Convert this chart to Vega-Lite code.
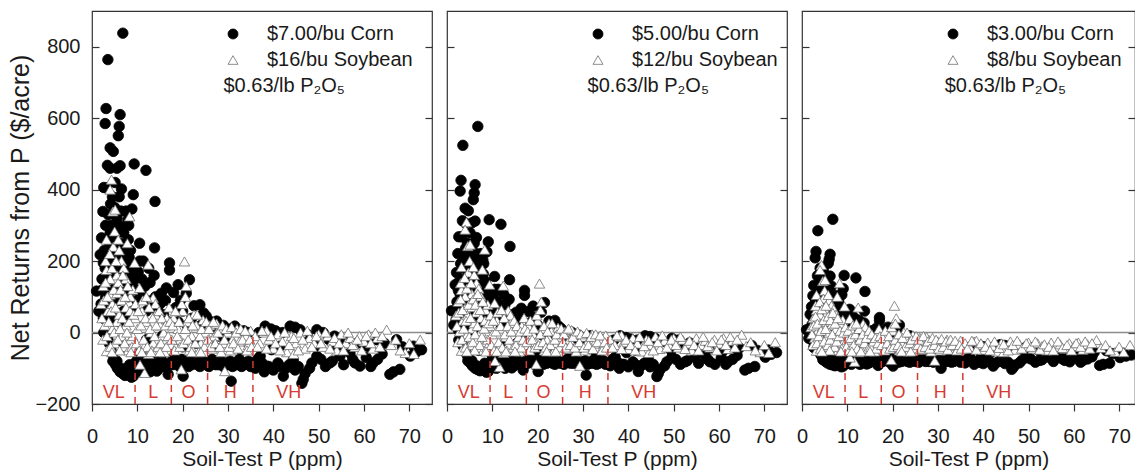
{
"$schema": "https://vega.github.io/schema/vega-lite/v6.json",
"padding": {"left": 8, "top": 10, "right": 0, "bottom": 0},
"spacing": 15,
"bounds": "flush",
"config": {
  "font": "Liberation Sans",
  "view": {"stroke": "#333333", "strokeWidth": 1.2},
  "axis": {"grid": false, "domain": false, "tickColor": "#333333", "tickWidth": 1.2, "labelColor": "#1a1a1a", "titleColor": "#1a1a1a", "titleFontWeight": "normal", "labelFontSize": 20},
  "legend": {"orient": "none", "legendY": 13, "padding": 0, "labelFontSize": 20, "symbolSize": 100, "symbolStrokeWidth": 0.8, "labelOffset": 24, "rowPadding": 6, "labelColor": "#1a1a1a"}
},
"datasets": {
"bounds": [{"p": 9.5}, {"p": 17.5}, {"p": 25.5}, {"p": 35.5}],
"classes": [{"cls": "VL", "p": 4.8}, {"cls": "L", "p": 13.5}, {"cls": "O", "p": 21.3}, {"cls": "H", "p": 30.5}, {"cls": "VH", "p": 43.4}],
"p1": [
{"crop":"Corn","p":1.0,"nr":116},{"crop":"Corn","p":1.5,"nr":60},{"crop":"Corn","p":1.8,"nr":218},{"crop":"Corn","p":2.1,"nr":265},{"crop":"Corn","p":2.4,"nr":339},{"crop":"Corn","p":2.5,"nr":195},{"crop":"Corn","p":2.6,"nr":406},{"crop":"Corn","p":2.9,"nr":585},{"crop":"Corn","p":3.1,"nr":627},{"crop":"Corn","p":3.5,"nr":764},
{"crop":"Corn","p":3.4,"nr":468},{"crop":"Corn","p":4.0,"nr":517},{"crop":"Corn","p":4.7,"nr":507},{"crop":"Corn","p":5.8,"nr":551},{"crop":"Corn","p":6.0,"nr":577},{"crop":"Corn","p":6.2,"nr":610},{"crop":"Corn","p":6.8,"nr":838},{"crop":"Corn","p":6.2,"nr":467},{"crop":"Corn","p":6.5,"nr":402},{"crop":"Corn","p":3.2,"nr":405},
{"crop":"Corn","p":3.0,"nr":300},{"crop":"Corn","p":4.0,"nr":280},{"crop":"Corn","p":5.0,"nr":350},{"crop":"Corn","p":5.5,"nr":320},{"crop":"Corn","p":5.2,"nr":250},{"crop":"Corn","p":6.0,"nr":300},{"crop":"Corn","p":7.0,"nr":280},{"crop":"Corn","p":7.5,"nr":340},{"crop":"Corn","p":8.8,"nr":346},{"crop":"Corn","p":9.1,"nr":386},
{"crop":"Corn","p":9.3,"nr":472},{"crop":"Corn","p":8.0,"nr":260},{"crop":"Corn","p":8.5,"nr":230},{"crop":"Corn","p":7.2,"nr":210},{"crop":"Corn","p":6.5,"nr":180},{"crop":"Corn","p":7.9,"nr":316},{"crop":"Corn","p":4.0,"nr":460},{"crop":"Corn","p":4.5,"nr":380},{"crop":"Corn","p":5.5,"nr":460},{"crop":"Corn","p":6.0,"nr":380},
{"crop":"Corn","p":2.2,"nr":150},{"crop":"Corn","p":3.5,"nr":150},{"crop":"Corn","p":4.5,"nr":120},{"crop":"Corn","p":5.5,"nr":100},{"crop":"Corn","p":6.5,"nr":130},{"crop":"Corn","p":7.5,"nr":160},{"crop":"Corn","p":8.5,"nr":190},{"crop":"Corn","p":9.5,"nr":150},{"crop":"Corn","p":3.0,"nr":100},{"crop":"Corn","p":2.0,"nr":80},
{"crop":"Corn","p":6.0,"nr":30},{"crop":"Corn","p":7.0,"nr":60},{"crop":"Corn","p":8.0,"nr":100},{"crop":"Corn","p":9.0,"nr":60},{"crop":"Corn","p":2.5,"nr":40},{"crop":"Corn","p":3.5,"nr":-20},{"crop":"Corn","p":4.5,"nr":-60},{"crop":"Corn","p":5.5,"nr":-80},{"crop":"Corn","p":6.5,"nr":-100},{"crop":"Corn","p":7.5,"nr":-110},
{"crop":"Corn","p":8.0,"nr":-113},{"crop":"Corn","p":8.7,"nr":-125},{"crop":"Corn","p":9.1,"nr":-122},{"crop":"Corn","p":9.5,"nr":-95},{"crop":"Corn","p":7.0,"nr":-40},{"crop":"Corn","p":11.9,"nr":454},{"crop":"Corn","p":13.9,"nr":367},{"crop":"Corn","p":13.8,"nr":237},{"crop":"Corn","p":10.5,"nr":200},{"crop":"Corn","p":12.5,"nr":180},
{"crop":"Corn","p":11.0,"nr":150},{"crop":"Corn","p":14.0,"nr":100},{"crop":"Corn","p":15.0,"nr":80},{"crop":"Corn","p":16.4,"nr":125},{"crop":"Corn","p":17.1,"nr":195},{"crop":"Corn","p":17.1,"nr":175},{"crop":"Corn","p":12.0,"nr":60},{"crop":"Corn","p":14.3,"nr":-108},{"crop":"Corn","p":11.0,"nr":-90},{"crop":"Corn","p":13.0,"nr":-80},
{"crop":"Corn","p":15.0,"nr":-95},{"crop":"Corn","p":16.8,"nr":-117},{"crop":"Corn","p":12.0,"nr":-20},{"crop":"Corn","p":15.5,"nr":-10},{"crop":"Corn","p":10.5,"nr":250},{"crop":"Corn","p":10.0,"nr":-60},{"crop":"Corn","p":21.5,"nr":148},{"crop":"Corn","p":19.0,"nr":134},{"crop":"Corn","p":18.0,"nr":112},{"crop":"Corn","p":23.8,"nr":78},
{"crop":"Corn","p":20.0,"nr":60},{"crop":"Corn","p":22.0,"nr":40},{"crop":"Corn","p":24.0,"nr":20},{"crop":"Corn","p":20.1,"nr":-122},{"crop":"Corn","p":19.0,"nr":-85},{"crop":"Corn","p":21.0,"nr":-80},{"crop":"Corn","p":22.0,"nr":-90},{"crop":"Corn","p":23.0,"nr":-75},{"crop":"Corn","p":24.0,"nr":-85},{"crop":"Corn","p":18.0,"nr":-70},
{"crop":"Corn","p":20.0,"nr":-40},{"crop":"Corn","p":23.0,"nr":-30},{"crop":"Corn","p":25.2,"nr":46},{"crop":"Corn","p":27.5,"nr":32},{"crop":"Corn","p":29.0,"nr":20},{"crop":"Corn","p":31.5,"nr":18},{"crop":"Corn","p":30.7,"nr":-136},{"crop":"Corn","p":26.0,"nr":-85},{"crop":"Corn","p":27.0,"nr":-80},{"crop":"Corn","p":28.0,"nr":-90},
{"crop":"Corn","p":29.5,"nr":-85},{"crop":"Corn","p":32.0,"nr":-90},{"crop":"Corn","p":33.0,"nr":-95},{"crop":"Corn","p":34.0,"nr":-85},{"crop":"Corn","p":35.6,"nr":-94},{"crop":"Corn","p":27.0,"nr":-40},{"crop":"Corn","p":30.0,"nr":-30},{"crop":"Corn","p":33.0,"nr":-50},{"crop":"Corn","p":28.0,"nr":-10},{"crop":"Corn","p":33.5,"nr":5},
{"crop":"Corn","p":38.2,"nr":18},{"crop":"Corn","p":43.7,"nr":18},{"crop":"Corn","p":45.9,"nr":8},{"crop":"Corn","p":49.6,"nr":8},{"crop":"Corn","p":37.1,"nr":-66},{"crop":"Corn","p":38.5,"nr":-94},{"crop":"Corn","p":42.2,"nr":-122},{"crop":"Corn","p":46.6,"nr":-131},{"crop":"Corn","p":46.3,"nr":-142},{"crop":"Corn","p":44.4,"nr":-76},
{"crop":"Corn","p":52.5,"nr":-85},{"crop":"Corn","p":54.7,"nr":-66},{"crop":"Corn","p":59.1,"nr":-94},{"crop":"Corn","p":56.9,"nr":-57},{"crop":"Corn","p":59.9,"nr":-29},{"crop":"Corn","p":62.8,"nr":-20},{"crop":"Corn","p":67.2,"nr":-20},{"crop":"Corn","p":65.7,"nr":-117},{"crop":"Corn","p":67.9,"nr":-103},{"crop":"Corn","p":70.2,"nr":-66},
{"crop":"Corn","p":70.9,"nr":-38},{"crop":"Corn","p":72.7,"nr":-48},{"crop":"Corn","p":49.6,"nr":-66},{"crop":"Corn","p":49.4,"nr":-38},{"crop":"Corn","p":41.5,"nr":-38},{"crop":"Corn","p":39.6,"nr":-48},{"crop":"Corn","p":54.0,"nr":-38},{"crop":"Corn","p":52.3,"nr":-20},{"crop":"Corn","p":40.5,"nr":5},{"crop":"Corn","p":48.0,"nr":-100},
{"crop":"Corn","p":57.5,"nr":-75},{"crop":"Corn","p":62.0,"nr":-85},{"crop":"Corn","p":64.0,"nr":-60},{"crop":"Corn","p":36.5,"nr":-75},{"crop":"Corn","p":41.0,"nr":-85},
{"crop":"Corn","p":2.3,"nr":120},{"crop":"Corn","p":2.7,"nr":230},{"crop":"Corn","p":3.3,"nr":210},{"crop":"Corn","p":3.6,"nr":330},{"crop":"Corn","p":3.8,"nr":240},{"crop":"Corn","p":4.2,"nr":300},{"crop":"Corn","p":4.4,"nr":200},{"crop":"Corn","p":4.8,"nr":260},{"crop":"Corn","p":4.9,"nr":170},{"crop":"Corn","p":5.3,"nr":220},
{"crop":"Corn","p":5.7,"nr":280},{"crop":"Corn","p":5.9,"nr":190},{"crop":"Corn","p":6.3,"nr":250},{"crop":"Corn","p":6.7,"nr":220},{"crop":"Corn","p":6.9,"nr":150},{"crop":"Corn","p":7.3,"nr":240},{"crop":"Corn","p":7.7,"nr":190},{"crop":"Corn","p":8.2,"nr":210},{"crop":"Corn","p":8.6,"nr":150},{"crop":"Corn","p":9.2,"nr":170},
{"crop":"Corn","p":9.7,"nr":120},{"crop":"Corn","p":2.6,"nr":0},{"crop":"Corn","p":3.2,"nr":50},{"crop":"Corn","p":3.8,"nr":-30},{"crop":"Corn","p":4.2,"nr":-50},{"crop":"Corn","p":4.6,"nr":-80},{"crop":"Corn","p":5.2,"nr":-90},{"crop":"Corn","p":5.6,"nr":-100},{"crop":"Corn","p":6.2,"nr":-110},{"crop":"Corn","p":6.8,"nr":-115},
{"crop":"Corn","p":7.3,"nr":-120},{"crop":"Corn","p":7.8,"nr":-105},{"crop":"Corn","p":8.3,"nr":-90},{"crop":"Corn","p":8.9,"nr":-100},{"crop":"Corn","p":9.4,"nr":-110},{"crop":"Corn","p":9.8,"nr":-80},{"crop":"Corn","p":3.9,"nr":70},{"crop":"Corn","p":4.9,"nr":40},{"crop":"Corn","p":5.9,"nr":90},{"crop":"Corn","p":6.9,"nr":110},
{"crop":"Corn","p":7.9,"nr":50},{"crop":"Corn","p":8.9,"nr":130},{"crop":"Corn","p":9.9,"nr":90},{"crop":"Corn","p":2.9,"nr":180},{"crop":"Corn","p":4.1,"nr":360},{"crop":"Corn","p":5.1,"nr":420},{"crop":"Corn","p":6.4,"nr":340},{"crop":"Corn","p":8.1,"nr":300},{"crop":"Corn","p":10.2,"nr":170},{"crop":"Corn","p":10.8,"nr":110},
{"crop":"Corn","p":11.3,"nr":200},{"crop":"Corn","p":11.7,"nr":130},{"crop":"Corn","p":12.2,"nr":90},{"crop":"Corn","p":12.8,"nr":140},{"crop":"Corn","p":13.3,"nr":70},{"crop":"Corn","p":13.7,"nr":160},{"crop":"Corn","p":14.5,"nr":60},{"crop":"Corn","p":15.3,"nr":110},{"crop":"Corn","p":15.8,"nr":50},{"crop":"Corn","p":16.2,"nr":90},
{"crop":"Corn","p":16.8,"nr":30},{"crop":"Corn","p":10.3,"nr":-100},{"crop":"Corn","p":10.9,"nr":-110},{"crop":"Corn","p":11.5,"nr":-95},{"crop":"Corn","p":12.3,"nr":-100},{"crop":"Corn","p":12.8,"nr":-110},{"crop":"Corn","p":13.5,"nr":-100},{"crop":"Corn","p":14.0,"nr":-90},{"crop":"Corn","p":14.8,"nr":-100},{"crop":"Corn","p":15.6,"nr":-85},
{"crop":"Corn","p":16.2,"nr":-95},{"crop":"Corn","p":17.0,"nr":-85},{"crop":"Corn","p":11.3,"nr":-70},{"crop":"Corn","p":13.2,"nr":-60},{"crop":"Corn","p":15.2,"nr":-70},{"crop":"Corn","p":17.8,"nr":-90},{"crop":"Corn","p":18.5,"nr":-80},{"crop":"Corn","p":19.3,"nr":-95},{"crop":"Corn","p":19.8,"nr":-75},{"crop":"Corn","p":20.5,"nr":-90},
{"crop":"Corn","p":21.3,"nr":-95},{"crop":"Corn","p":21.8,"nr":-85},{"crop":"Corn","p":22.5,"nr":-80},{"crop":"Corn","p":23.3,"nr":-90},{"crop":"Corn","p":23.8,"nr":-95},{"crop":"Corn","p":24.5,"nr":-80},{"crop":"Corn","p":25.0,"nr":-90},{"crop":"Corn","p":18.5,"nr":70},{"crop":"Corn","p":19.5,"nr":90},{"crop":"Corn","p":20.8,"nr":110},
{"crop":"Corn","p":22.5,"nr":75},{"crop":"Corn","p":21.0,"nr":20},{"crop":"Corn","p":24.6,"nr":55},{"crop":"Corn","p":19.0,"nr":30},{"crop":"Corn","p":25.8,"nr":-95},{"crop":"Corn","p":26.5,"nr":-75},{"crop":"Corn","p":27.3,"nr":-90},{"crop":"Corn","p":28.5,"nr":-80},{"crop":"Corn","p":29.0,"nr":-95},{"crop":"Corn","p":30.0,"nr":-90},
{"crop":"Corn","p":30.5,"nr":-80},{"crop":"Corn","p":31.0,"nr":-95},{"crop":"Corn","p":31.8,"nr":-85},{"crop":"Corn","p":32.5,"nr":-75},{"crop":"Corn","p":33.5,"nr":-90},{"crop":"Corn","p":34.5,"nr":-80},{"crop":"Corn","p":35.0,"nr":-95},{"crop":"Corn","p":26.3,"nr":30},{"crop":"Corn","p":28.5,"nr":15},{"crop":"Corn","p":30.5,"nr":10},
{"crop":"Corn","p":34.5,"nr":0},{"crop":"Corn","p":26.8,"nr":10},{"crop":"Corn","p":36.0,"nr":-100},{"crop":"Corn","p":37.5,"nr":-85},{"crop":"Corn","p":38.0,"nr":-110},{"crop":"Corn","p":39.0,"nr":-95},{"crop":"Corn","p":40.0,"nr":-105},{"crop":"Corn","p":41.5,"nr":-95},{"crop":"Corn","p":42.8,"nr":-100},{"crop":"Corn","p":43.5,"nr":-90},
{"crop":"Corn","p":44.8,"nr":-105},{"crop":"Corn","p":45.5,"nr":-95},{"crop":"Corn","p":47.0,"nr":-115},{"crop":"Corn","p":48.5,"nr":-85},{"crop":"Corn","p":50.5,"nr":-75},{"crop":"Corn","p":51.5,"nr":-95},{"crop":"Corn","p":53.0,"nr":-80},{"crop":"Corn","p":55.5,"nr":-90},{"crop":"Corn","p":58.0,"nr":-85},{"crop":"Corn","p":60.5,"nr":-70},
{"crop":"Corn","p":61.5,"nr":-95},{"crop":"Corn","p":63.0,"nr":-75},{"crop":"Corn","p":66.5,"nr":-110},{"crop":"Corn","p":68.5,"nr":-40},{"crop":"Corn","p":71.5,"nr":-55},{"crop":"Corn","p":36.8,"nr":0},{"crop":"Corn","p":39.5,"nr":10},{"crop":"Corn","p":42.0,"nr":0},{"crop":"Corn","p":44.8,"nr":15},{"crop":"Corn","p":47.5,"nr":-5},
{"crop":"Corn","p":51.0,"nr":0},{"crop":"Corn","p":53.5,"nr":-10},{"crop":"Corn","p":56.0,"nr":-20},{"crop":"Corn","p":58.5,"nr":-30},{"crop":"Corn","p":61.0,"nr":-40},{"crop":"Corn","p":64.5,"nr":-30},
{"crop":"Soybean","p":4.3,"nr":428},{"crop":"Soybean","p":4.0,"nr":400},{"crop":"Soybean","p":4.6,"nr":339},{"crop":"Soybean","p":5.1,"nr":344},{"crop":"Soybean","p":8.3,"nr":325},{"crop":"Soybean","p":5.0,"nr":283},{"crop":"Soybean","p":3.2,"nr":260},{"crop":"Soybean","p":4.7,"nr":240},{"crop":"Soybean","p":3.2,"nr":175},{"crop":"Soybean","p":4.0,"nr":106},
{"crop":"Soybean","p":6.0,"nr":230},{"crop":"Soybean","p":6.5,"nr":200},{"crop":"Soybean","p":7.0,"nr":180},{"crop":"Soybean","p":7.5,"nr":150},{"crop":"Soybean","p":5.5,"nr":160},{"crop":"Soybean","p":3.0,"nr":200},{"crop":"Soybean","p":2.5,"nr":130},{"crop":"Soybean","p":2.0,"nr":80},{"crop":"Soybean","p":3.5,"nr":60},{"crop":"Soybean","p":4.5,"nr":80},
{"crop":"Soybean","p":5.5,"nr":110},{"crop":"Soybean","p":6.5,"nr":90},{"crop":"Soybean","p":7.5,"nr":70},{"crop":"Soybean","p":8.5,"nr":100},{"crop":"Soybean","p":9.4,"nr":195},{"crop":"Soybean","p":9.0,"nr":120},{"crop":"Soybean","p":2.8,"nr":20},{"crop":"Soybean","p":3.6,"nr":-48},{"crop":"Soybean","p":3.2,"nr":-52},{"crop":"Soybean","p":4.5,"nr":10},
{"crop":"Soybean","p":5.5,"nr":30},{"crop":"Soybean","p":6.5,"nr":-10},{"crop":"Soybean","p":7.5,"nr":20},{"crop":"Soybean","p":8.5,"nr":-20},{"crop":"Soybean","p":9.5,"nr":40},{"crop":"Soybean","p":5.0,"nr":-30},{"crop":"Soybean","p":6.0,"nr":50},{"crop":"Soybean","p":7.0,"nr":-40},{"crop":"Soybean","p":8.0,"nr":-50},{"crop":"Soybean","p":9.0,"nr":-10},
{"crop":"Soybean","p":4.0,"nr":150},{"crop":"Soybean","p":5.8,"nr":260},{"crop":"Soybean","p":7.8,"nr":250},{"crop":"Soybean","p":10.5,"nr":125},{"crop":"Soybean","p":12.4,"nr":190},{"crop":"Soybean","p":13.5,"nr":97},{"crop":"Soybean","p":11.0,"nr":60},{"crop":"Soybean","p":12.0,"nr":30},{"crop":"Soybean","p":13.0,"nr":0},{"crop":"Soybean","p":14.0,"nr":50},
{"crop":"Soybean","p":15.0,"nr":20},{"crop":"Soybean","p":16.0,"nr":-20},{"crop":"Soybean","p":11.6,"nr":-113},{"crop":"Soybean","p":10.6,"nr":-90},{"crop":"Soybean","p":11.5,"nr":-40},{"crop":"Soybean","p":12.5,"nr":-60},{"crop":"Soybean","p":13.5,"nr":-30},{"crop":"Soybean","p":14.5,"nr":-50},{"crop":"Soybean","p":15.5,"nr":-10},{"crop":"Soybean","p":16.5,"nr":40},
{"crop":"Soybean","p":17.0,"nr":70},{"crop":"Soybean","p":10.0,"nr":10},{"crop":"Soybean","p":14.0,"nr":80},{"crop":"Soybean","p":16.0,"nr":-55},{"crop":"Soybean","p":20.4,"nr":199},{"crop":"Soybean","p":20.8,"nr":130},{"crop":"Soybean","p":19.7,"nr":-103},{"crop":"Soybean","p":18.0,"nr":40},{"crop":"Soybean","p":19.0,"nr":10},{"crop":"Soybean","p":20.0,"nr":60},
{"crop":"Soybean","p":21.0,"nr":30},{"crop":"Soybean","p":22.0,"nr":-10},{"crop":"Soybean","p":23.0,"nr":20},{"crop":"Soybean","p":24.0,"nr":-30},{"crop":"Soybean","p":18.5,"nr":-40},{"crop":"Soybean","p":21.5,"nr":-50},{"crop":"Soybean","p":23.5,"nr":-55},{"crop":"Soybean","p":25.0,"nr":0},{"crop":"Soybean","p":19.5,"nr":-20},{"crop":"Soybean","p":22.5,"nr":50},
{"crop":"Soybean","p":24.5,"nr":35},{"crop":"Soybean","p":29.3,"nr":-108},{"crop":"Soybean","p":26.0,"nr":20},{"crop":"Soybean","p":27.0,"nr":-10},{"crop":"Soybean","p":28.0,"nr":10},{"crop":"Soybean","p":29.0,"nr":-30},{"crop":"Soybean","p":30.0,"nr":0},{"crop":"Soybean","p":31.0,"nr":-20},{"crop":"Soybean","p":32.0,"nr":10},{"crop":"Soybean","p":33.0,"nr":-40},
{"crop":"Soybean","p":34.0,"nr":-10},{"crop":"Soybean","p":35.0,"nr":5},{"crop":"Soybean","p":26.5,"nr":-45},{"crop":"Soybean","p":28.5,"nr":-55},{"crop":"Soybean","p":30.5,"nr":-50},{"crop":"Soybean","p":32.5,"nr":-25},{"crop":"Soybean","p":34.5,"nr":-35},{"crop":"Soybean","p":27.5,"nr":25},{"crop":"Soybean","p":36.0,"nr":-10},{"crop":"Soybean","p":37.0,"nr":-30},
{"crop":"Soybean","p":38.0,"nr":0},{"crop":"Soybean","p":39.0,"nr":-20},{"crop":"Soybean","p":40.0,"nr":-45},{"crop":"Soybean","p":41.0,"nr":-5},{"crop":"Soybean","p":42.0,"nr":-25},{"crop":"Soybean","p":43.0,"nr":-55},{"crop":"Soybean","p":44.0,"nr":-10},{"crop":"Soybean","p":45.0,"nr":-30},{"crop":"Soybean","p":46.0,"nr":0},{"crop":"Soybean","p":47.0,"nr":-45},
{"crop":"Soybean","p":48.0,"nr":-15},{"crop":"Soybean","p":49.0,"nr":-30},{"crop":"Soybean","p":50.0,"nr":-5},{"crop":"Soybean","p":51.0,"nr":-40},{"crop":"Soybean","p":52.0,"nr":-10},{"crop":"Soybean","p":53.0,"nr":-25},{"crop":"Soybean","p":54.0,"nr":-50},{"crop":"Soybean","p":55.0,"nr":-5},{"crop":"Soybean","p":56.0,"nr":-30},{"crop":"Soybean","p":57.0,"nr":-15},
{"crop":"Soybean","p":58.0,"nr":-40},{"crop":"Soybean","p":59.0,"nr":-10},{"crop":"Soybean","p":60.0,"nr":-25},{"crop":"Soybean","p":61.0,"nr":-5},{"crop":"Soybean","p":62.0,"nr":-45},{"crop":"Soybean","p":63.0,"nr":-15},{"crop":"Soybean","p":65.0,"nr":8},{"crop":"Soybean","p":66.0,"nr":-35},{"crop":"Soybean","p":72.4,"nr":-20},{"crop":"Soybean","p":69.1,"nr":-57},
{"crop":"Soybean","p":44.5,"nr":-60},{"crop":"Soybean","p":38.5,"nr":5},
{"crop":"Soybean","p":2.2,"nr":40},{"crop":"Soybean","p":2.4,"nr":-20},{"crop":"Soybean","p":2.6,"nr":90},{"crop":"Soybean","p":3.0,"nr":140},{"crop":"Soybean","p":3.3,"nr":-10},{"crop":"Soybean","p":3.4,"nr":100},{"crop":"Soybean","p":3.7,"nr":30},{"crop":"Soybean","p":3.9,"nr":220},{"crop":"Soybean","p":4.1,"nr":-40},{"crop":"Soybean","p":4.2,"nr":60},
{"crop":"Soybean","p":4.4,"nr":180},{"crop":"Soybean","p":4.8,"nr":120},{"crop":"Soybean","p":4.9,"nr":0},{"crop":"Soybean","p":5.2,"nr":70},{"crop":"Soybean","p":5.3,"nr":200},{"crop":"Soybean","p":5.7,"nr":-20},{"crop":"Soybean","p":5.8,"nr":140},{"crop":"Soybean","p":6.2,"nr":10},{"crop":"Soybean","p":6.3,"nr":120},{"crop":"Soybean","p":6.7,"nr":40},
{"crop":"Soybean","p":6.8,"nr":160},{"crop":"Soybean","p":7.2,"nr":-30},{"crop":"Soybean","p":7.3,"nr":100},{"crop":"Soybean","p":7.7,"nr":0},{"crop":"Soybean","p":7.9,"nr":130},{"crop":"Soybean","p":8.2,"nr":30},{"crop":"Soybean","p":8.4,"nr":60},{"crop":"Soybean","p":8.8,"nr":-40},{"crop":"Soybean","p":9.2,"nr":50},{"crop":"Soybean","p":9.6,"nr":80},
{"crop":"Soybean","p":9.8,"nr":-30},{"crop":"Soybean","p":6.1,"nr":-50},{"crop":"Soybean","p":4.4,"nr":-55},{"crop":"Soybean","p":8.6,"nr":-55},{"crop":"Soybean","p":10.2,"nr":60},{"crop":"Soybean","p":10.4,"nr":-50},{"crop":"Soybean","p":10.8,"nr":20},{"crop":"Soybean","p":11.2,"nr":90},{"crop":"Soybean","p":11.4,"nr":-20},{"crop":"Soybean","p":11.8,"nr":40},
{"crop":"Soybean","p":12.2,"nr":-40},{"crop":"Soybean","p":12.6,"nr":70},{"crop":"Soybean","p":12.8,"nr":10},{"crop":"Soybean","p":13.2,"nr":-50},{"crop":"Soybean","p":13.4,"nr":40},{"crop":"Soybean","p":13.8,"nr":-10},{"crop":"Soybean","p":14.2,"nr":20},{"crop":"Soybean","p":14.6,"nr":-40},{"crop":"Soybean","p":14.8,"nr":60},{"crop":"Soybean","p":15.2,"nr":-30},
{"crop":"Soybean","p":15.4,"nr":40},{"crop":"Soybean","p":15.8,"nr":0},{"crop":"Soybean","p":16.2,"nr":20},{"crop":"Soybean","p":16.4,"nr":-40},{"crop":"Soybean","p":16.8,"nr":-10},{"crop":"Soybean","p":17.2,"nr":30},{"crop":"Soybean","p":11.0,"nr":-55},{"crop":"Soybean","p":13.0,"nr":-55},{"crop":"Soybean","p":15.0,"nr":-55},{"crop":"Soybean","p":12.0,"nr":100},
{"crop":"Soybean","p":17.6,"nr":-20},{"crop":"Soybean","p":17.8,"nr":20},{"crop":"Soybean","p":18.2,"nr":-50},{"crop":"Soybean","p":18.4,"nr":60},{"crop":"Soybean","p":18.8,"nr":-10},{"crop":"Soybean","p":19.2,"nr":30},{"crop":"Soybean","p":19.4,"nr":-40},{"crop":"Soybean","p":19.8,"nr":80},{"crop":"Soybean","p":20.2,"nr":-30},{"crop":"Soybean","p":20.6,"nr":10},
{"crop":"Soybean","p":21.2,"nr":-20},{"crop":"Soybean","p":21.4,"nr":40},{"crop":"Soybean","p":21.8,"nr":-40},{"crop":"Soybean","p":22.2,"nr":20},{"crop":"Soybean","p":22.8,"nr":-30},{"crop":"Soybean","p":23.2,"nr":50},{"crop":"Soybean","p":23.8,"nr":-10},{"crop":"Soybean","p":24.2,"nr":10},{"crop":"Soybean","p":24.8,"nr":-40},{"crop":"Soybean","p":25.2,"nr":30},
{"crop":"Soybean","p":20.6,"nr":100},{"crop":"Soybean","p":22.0,"nr":-55},{"crop":"Soybean","p":24.0,"nr":-55},{"crop":"Soybean","p":25.6,"nr":-20},{"crop":"Soybean","p":25.8,"nr":10},{"crop":"Soybean","p":26.2,"nr":-40},{"crop":"Soybean","p":26.8,"nr":30},{"crop":"Soybean","p":27.2,"nr":-30},{"crop":"Soybean","p":27.8,"nr":0},{"crop":"Soybean","p":28.2,"nr":-40},
{"crop":"Soybean","p":28.8,"nr":20},{"crop":"Soybean","p":29.2,"nr":-20},{"crop":"Soybean","p":29.6,"nr":10},{"crop":"Soybean","p":30.2,"nr":-40},{"crop":"Soybean","p":30.8,"nr":15},{"crop":"Soybean","p":31.2,"nr":-30},{"crop":"Soybean","p":31.8,"nr":0},{"crop":"Soybean","p":32.2,"nr":-45},{"crop":"Soybean","p":32.8,"nr":10},{"crop":"Soybean","p":33.2,"nr":-20},
{"crop":"Soybean","p":33.8,"nr":5},{"crop":"Soybean","p":34.2,"nr":-50},{"crop":"Soybean","p":34.8,"nr":-20},{"crop":"Soybean","p":35.2,"nr":-40},{"crop":"Soybean","p":36.5,"nr":-40},{"crop":"Soybean","p":37.5,"nr":5},{"crop":"Soybean","p":38.5,"nr":-45},{"crop":"Soybean","p":39.5,"nr":-10},{"crop":"Soybean","p":40.5,"nr":-30},{"crop":"Soybean","p":41.5,"nr":-50},
{"crop":"Soybean","p":42.5,"nr":0},{"crop":"Soybean","p":43.5,"nr":-35},{"crop":"Soybean","p":44.5,"nr":-15},{"crop":"Soybean","p":45.5,"nr":-50},{"crop":"Soybean","p":46.5,"nr":-20},{"crop":"Soybean","p":47.5,"nr":5},{"crop":"Soybean","p":48.5,"nr":-40},{"crop":"Soybean","p":49.5,"nr":-10},{"crop":"Soybean","p":50.5,"nr":-30},{"crop":"Soybean","p":51.5,"nr":0},
{"crop":"Soybean","p":52.5,"nr":-45},{"crop":"Soybean","p":53.5,"nr":-15},{"crop":"Soybean","p":54.5,"nr":-30},{"crop":"Soybean","p":55.5,"nr":-50},{"crop":"Soybean","p":56.5,"nr":0},{"crop":"Soybean","p":57.5,"nr":-35},{"crop":"Soybean","p":58.5,"nr":-20},{"crop":"Soybean","p":59.5,"nr":-50},{"crop":"Soybean","p":60.5,"nr":-10},{"crop":"Soybean","p":61.5,"nr":-30},
{"crop":"Soybean","p":62.5,"nr":0},{"crop":"Soybean","p":63.5,"nr":-40},{"crop":"Soybean","p":64.0,"nr":-10},{"crop":"Soybean","p":67.0,"nr":-20},{"crop":"Soybean","p":68.0,"nr":-50},{"crop":"Soybean","p":70.0,"nr":-30},{"crop":"Soybean","p":71.0,"nr":-60}
],
"p2": [
{"crop":"Corn","p":1.0,"nr":61},{"crop":"Corn","p":1.5,"nr":21},{"crop":"Corn","p":1.8,"nr":134},{"crop":"Corn","p":2.1,"nr":168},{"crop":"Corn","p":2.4,"nr":221},{"crop":"Corn","p":2.5,"nr":118},{"crop":"Corn","p":2.6,"nr":268},{"crop":"Corn","p":2.9,"nr":396},{"crop":"Corn","p":3.1,"nr":426},{"crop":"Corn","p":3.5,"nr":524},
{"crop":"Corn","p":3.4,"nr":313},{"crop":"Corn","p":4.0,"nr":348},{"crop":"Corn","p":4.7,"nr":341},{"crop":"Corn","p":5.8,"nr":372},{"crop":"Corn","p":6.0,"nr":391},{"crop":"Corn","p":6.2,"nr":414},{"crop":"Corn","p":6.8,"nr":577},{"crop":"Corn","p":6.2,"nr":312},{"crop":"Corn","p":6.5,"nr":266},{"crop":"Corn","p":3.2,"nr":268},
{"crop":"Corn","p":3.0,"nr":193},{"crop":"Corn","p":4.0,"nr":179},{"crop":"Corn","p":5.0,"nr":229},{"crop":"Corn","p":5.5,"nr":207},{"crop":"Corn","p":5.2,"nr":157},{"crop":"Corn","p":6.0,"nr":193},{"crop":"Corn","p":7.0,"nr":179},{"crop":"Corn","p":7.5,"nr":221},{"crop":"Corn","p":8.8,"nr":226},{"crop":"Corn","p":9.1,"nr":254},
{"crop":"Corn","p":9.3,"nr":316},{"crop":"Corn","p":8.0,"nr":164},{"crop":"Corn","p":8.5,"nr":143},{"crop":"Corn","p":7.2,"nr":129},{"crop":"Corn","p":6.5,"nr":107},{"crop":"Corn","p":7.9,"nr":204},{"crop":"Corn","p":4.0,"nr":307},{"crop":"Corn","p":4.5,"nr":250},{"crop":"Corn","p":5.5,"nr":307},{"crop":"Corn","p":6.0,"nr":250},
{"crop":"Corn","p":2.2,"nr":86},{"crop":"Corn","p":3.5,"nr":86},{"crop":"Corn","p":4.5,"nr":64},{"crop":"Corn","p":5.5,"nr":50},{"crop":"Corn","p":6.5,"nr":71},{"crop":"Corn","p":7.5,"nr":93},{"crop":"Corn","p":8.5,"nr":114},{"crop":"Corn","p":9.5,"nr":86},{"crop":"Corn","p":3.0,"nr":50},{"crop":"Corn","p":2.0,"nr":36},
{"crop":"Corn","p":6.0,"nr":0},{"crop":"Corn","p":7.0,"nr":21},{"crop":"Corn","p":8.0,"nr":50},{"crop":"Corn","p":9.0,"nr":21},{"crop":"Corn","p":2.5,"nr":7},{"crop":"Corn","p":3.5,"nr":-36},{"crop":"Corn","p":4.5,"nr":-64},{"crop":"Corn","p":5.5,"nr":-79},{"crop":"Corn","p":6.5,"nr":-93},{"crop":"Corn","p":7.5,"nr":-100},
{"crop":"Corn","p":8.0,"nr":-102},{"crop":"Corn","p":8.7,"nr":-111},{"crop":"Corn","p":9.1,"nr":-109},{"crop":"Corn","p":9.5,"nr":-89},{"crop":"Corn","p":7.0,"nr":-50},{"crop":"Corn","p":11.9,"nr":303},{"crop":"Corn","p":13.9,"nr":241},{"crop":"Corn","p":13.8,"nr":148},{"crop":"Corn","p":10.5,"nr":121},{"crop":"Corn","p":12.5,"nr":107},
{"crop":"Corn","p":11.0,"nr":86},{"crop":"Corn","p":14.0,"nr":50},{"crop":"Corn","p":15.0,"nr":36},{"crop":"Corn","p":16.4,"nr":68},{"crop":"Corn","p":17.1,"nr":118},{"crop":"Corn","p":17.1,"nr":104},{"crop":"Corn","p":12.0,"nr":21},{"crop":"Corn","p":14.3,"nr":-99},{"crop":"Corn","p":11.0,"nr":-86},{"crop":"Corn","p":13.0,"nr":-79},
{"crop":"Corn","p":15.0,"nr":-89},{"crop":"Corn","p":16.8,"nr":-105},{"crop":"Corn","p":12.0,"nr":-36},{"crop":"Corn","p":15.5,"nr":-29},{"crop":"Corn","p":10.5,"nr":157},{"crop":"Corn","p":10.0,"nr":-64},{"crop":"Corn","p":21.5,"nr":84},{"crop":"Corn","p":19.0,"nr":74},{"crop":"Corn","p":18.0,"nr":59},{"crop":"Corn","p":23.8,"nr":34},
{"crop":"Corn","p":20.0,"nr":21},{"crop":"Corn","p":22.0,"nr":7},{"crop":"Corn","p":24.0,"nr":-7},{"crop":"Corn","p":20.1,"nr":-109},{"crop":"Corn","p":19.0,"nr":-82},{"crop":"Corn","p":21.0,"nr":-79},{"crop":"Corn","p":22.0,"nr":-86},{"crop":"Corn","p":23.0,"nr":-75},{"crop":"Corn","p":24.0,"nr":-82},{"crop":"Corn","p":18.0,"nr":-71},
{"crop":"Corn","p":20.0,"nr":-50},{"crop":"Corn","p":23.0,"nr":-43},{"crop":"Corn","p":25.2,"nr":11},{"crop":"Corn","p":27.5,"nr":1},{"crop":"Corn","p":29.0,"nr":-7},{"crop":"Corn","p":31.5,"nr":-9},{"crop":"Corn","p":30.7,"nr":-119},{"crop":"Corn","p":26.0,"nr":-82},{"crop":"Corn","p":27.0,"nr":-79},{"crop":"Corn","p":28.0,"nr":-86},
{"crop":"Corn","p":29.5,"nr":-82},{"crop":"Corn","p":32.0,"nr":-86},{"crop":"Corn","p":33.0,"nr":-89},{"crop":"Corn","p":34.0,"nr":-82},{"crop":"Corn","p":35.6,"nr":-89},{"crop":"Corn","p":27.0,"nr":-50},{"crop":"Corn","p":30.0,"nr":-43},{"crop":"Corn","p":33.0,"nr":-57},{"crop":"Corn","p":28.0,"nr":-29},{"crop":"Corn","p":33.5,"nr":-18},
{"crop":"Corn","p":38.2,"nr":-9},{"crop":"Corn","p":43.7,"nr":-9},{"crop":"Corn","p":45.9,"nr":-16},{"crop":"Corn","p":49.6,"nr":-16},{"crop":"Corn","p":37.1,"nr":-69},{"crop":"Corn","p":38.5,"nr":-89},{"crop":"Corn","p":42.2,"nr":-109},{"crop":"Corn","p":46.6,"nr":-115},{"crop":"Corn","p":46.3,"nr":-123},{"crop":"Corn","p":44.4,"nr":-76},
{"crop":"Corn","p":52.5,"nr":-82},{"crop":"Corn","p":54.7,"nr":-69},{"crop":"Corn","p":59.1,"nr":-89},{"crop":"Corn","p":56.9,"nr":-62},{"crop":"Corn","p":59.9,"nr":-42},{"crop":"Corn","p":62.8,"nr":-36},{"crop":"Corn","p":67.2,"nr":-36},{"crop":"Corn","p":65.7,"nr":-105},{"crop":"Corn","p":67.9,"nr":-95},{"crop":"Corn","p":70.2,"nr":-69},
{"crop":"Corn","p":70.9,"nr":-49},{"crop":"Corn","p":72.7,"nr":-56},{"crop":"Corn","p":49.6,"nr":-69},{"crop":"Corn","p":49.4,"nr":-49},{"crop":"Corn","p":41.5,"nr":-49},{"crop":"Corn","p":39.6,"nr":-56},{"crop":"Corn","p":54.0,"nr":-49},{"crop":"Corn","p":52.3,"nr":-36},{"crop":"Corn","p":40.5,"nr":-18},{"crop":"Corn","p":48.0,"nr":-93},
{"crop":"Corn","p":57.5,"nr":-75},{"crop":"Corn","p":62.0,"nr":-82},{"crop":"Corn","p":64.0,"nr":-64},{"crop":"Corn","p":36.5,"nr":-75},{"crop":"Corn","p":41.0,"nr":-82},
{"crop":"Corn","p":2.3,"nr":64},{"crop":"Corn","p":2.7,"nr":143},{"crop":"Corn","p":3.3,"nr":129},{"crop":"Corn","p":3.6,"nr":214},{"crop":"Corn","p":3.8,"nr":150},{"crop":"Corn","p":4.2,"nr":193},{"crop":"Corn","p":4.4,"nr":121},{"crop":"Corn","p":4.8,"nr":164},{"crop":"Corn","p":4.9,"nr":100},{"crop":"Corn","p":5.3,"nr":136},
{"crop":"Corn","p":5.7,"nr":179},{"crop":"Corn","p":5.9,"nr":114},{"crop":"Corn","p":6.3,"nr":157},{"crop":"Corn","p":6.7,"nr":136},{"crop":"Corn","p":6.9,"nr":86},{"crop":"Corn","p":7.3,"nr":150},{"crop":"Corn","p":7.7,"nr":114},{"crop":"Corn","p":8.2,"nr":129},{"crop":"Corn","p":8.6,"nr":86},{"crop":"Corn","p":9.2,"nr":100},
{"crop":"Corn","p":9.7,"nr":64},{"crop":"Corn","p":2.6,"nr":-21},{"crop":"Corn","p":3.2,"nr":14},{"crop":"Corn","p":3.8,"nr":-43},{"crop":"Corn","p":4.2,"nr":-57},{"crop":"Corn","p":4.6,"nr":-79},{"crop":"Corn","p":5.2,"nr":-86},{"crop":"Corn","p":5.6,"nr":-93},{"crop":"Corn","p":6.2,"nr":-100},{"crop":"Corn","p":6.8,"nr":-104},
{"crop":"Corn","p":7.3,"nr":-107},{"crop":"Corn","p":7.8,"nr":-96},{"crop":"Corn","p":8.3,"nr":-86},{"crop":"Corn","p":8.9,"nr":-93},{"crop":"Corn","p":9.4,"nr":-100},{"crop":"Corn","p":9.8,"nr":-79},{"crop":"Corn","p":3.9,"nr":29},{"crop":"Corn","p":4.9,"nr":7},{"crop":"Corn","p":5.9,"nr":43},{"crop":"Corn","p":6.9,"nr":57},
{"crop":"Corn","p":7.9,"nr":14},{"crop":"Corn","p":8.9,"nr":71},{"crop":"Corn","p":9.9,"nr":43},{"crop":"Corn","p":2.9,"nr":107},{"crop":"Corn","p":4.1,"nr":236},{"crop":"Corn","p":5.1,"nr":279},{"crop":"Corn","p":6.4,"nr":221},{"crop":"Corn","p":8.1,"nr":193},{"crop":"Corn","p":10.2,"nr":100},{"crop":"Corn","p":10.8,"nr":57},
{"crop":"Corn","p":11.3,"nr":121},{"crop":"Corn","p":11.7,"nr":71},{"crop":"Corn","p":12.2,"nr":43},{"crop":"Corn","p":12.8,"nr":79},{"crop":"Corn","p":13.3,"nr":29},{"crop":"Corn","p":13.7,"nr":93},{"crop":"Corn","p":14.5,"nr":21},{"crop":"Corn","p":15.3,"nr":57},{"crop":"Corn","p":15.8,"nr":14},{"crop":"Corn","p":16.2,"nr":43},
{"crop":"Corn","p":16.8,"nr":0},{"crop":"Corn","p":10.3,"nr":-93},{"crop":"Corn","p":10.9,"nr":-100},{"crop":"Corn","p":11.5,"nr":-89},{"crop":"Corn","p":12.3,"nr":-93},{"crop":"Corn","p":12.8,"nr":-100},{"crop":"Corn","p":13.5,"nr":-93},{"crop":"Corn","p":14.0,"nr":-86},{"crop":"Corn","p":14.8,"nr":-93},{"crop":"Corn","p":15.6,"nr":-82},
{"crop":"Corn","p":16.2,"nr":-89},{"crop":"Corn","p":17.0,"nr":-82},{"crop":"Corn","p":11.3,"nr":-71},{"crop":"Corn","p":13.2,"nr":-64},{"crop":"Corn","p":15.2,"nr":-71},{"crop":"Corn","p":17.8,"nr":-86},{"crop":"Corn","p":18.5,"nr":-79},{"crop":"Corn","p":19.3,"nr":-89},{"crop":"Corn","p":19.8,"nr":-75},{"crop":"Corn","p":20.5,"nr":-86},
{"crop":"Corn","p":21.3,"nr":-89},{"crop":"Corn","p":21.8,"nr":-82},{"crop":"Corn","p":22.5,"nr":-79},{"crop":"Corn","p":23.3,"nr":-86},{"crop":"Corn","p":23.8,"nr":-89},{"crop":"Corn","p":24.5,"nr":-79},{"crop":"Corn","p":25.0,"nr":-86},{"crop":"Corn","p":18.5,"nr":29},{"crop":"Corn","p":19.5,"nr":43},{"crop":"Corn","p":20.8,"nr":57},
{"crop":"Corn","p":22.5,"nr":32},{"crop":"Corn","p":21.0,"nr":-7},{"crop":"Corn","p":24.6,"nr":18},{"crop":"Corn","p":19.0,"nr":0},{"crop":"Corn","p":25.8,"nr":-89},{"crop":"Corn","p":26.5,"nr":-75},{"crop":"Corn","p":27.3,"nr":-86},{"crop":"Corn","p":28.5,"nr":-79},{"crop":"Corn","p":29.0,"nr":-89},{"crop":"Corn","p":30.0,"nr":-86},
{"crop":"Corn","p":30.5,"nr":-79},{"crop":"Corn","p":31.0,"nr":-89},{"crop":"Corn","p":31.8,"nr":-82},{"crop":"Corn","p":32.5,"nr":-75},{"crop":"Corn","p":33.5,"nr":-86},{"crop":"Corn","p":34.5,"nr":-79},{"crop":"Corn","p":35.0,"nr":-89},{"crop":"Corn","p":26.3,"nr":0},{"crop":"Corn","p":28.5,"nr":-11},{"crop":"Corn","p":30.5,"nr":-14},
{"crop":"Corn","p":34.5,"nr":-21},{"crop":"Corn","p":26.8,"nr":-14},{"crop":"Corn","p":36.0,"nr":-93},{"crop":"Corn","p":37.5,"nr":-82},{"crop":"Corn","p":38.0,"nr":-100},{"crop":"Corn","p":39.0,"nr":-89},{"crop":"Corn","p":40.0,"nr":-96},{"crop":"Corn","p":41.5,"nr":-89},{"crop":"Corn","p":42.8,"nr":-93},{"crop":"Corn","p":43.5,"nr":-86},
{"crop":"Corn","p":44.8,"nr":-96},{"crop":"Corn","p":45.5,"nr":-89},{"crop":"Corn","p":47.0,"nr":-104},{"crop":"Corn","p":48.5,"nr":-82},{"crop":"Corn","p":50.5,"nr":-75},{"crop":"Corn","p":51.5,"nr":-89},{"crop":"Corn","p":53.0,"nr":-79},{"crop":"Corn","p":55.5,"nr":-86},{"crop":"Corn","p":58.0,"nr":-82},{"crop":"Corn","p":60.5,"nr":-71},
{"crop":"Corn","p":61.5,"nr":-89},{"crop":"Corn","p":63.0,"nr":-75},{"crop":"Corn","p":66.5,"nr":-100},{"crop":"Corn","p":68.5,"nr":-50},{"crop":"Corn","p":71.5,"nr":-61},{"crop":"Corn","p":36.8,"nr":-21},{"crop":"Corn","p":39.5,"nr":-14},{"crop":"Corn","p":42.0,"nr":-21},{"crop":"Corn","p":44.8,"nr":-11},{"crop":"Corn","p":47.5,"nr":-25},
{"crop":"Corn","p":51.0,"nr":-21},{"crop":"Corn","p":53.5,"nr":-29},{"crop":"Corn","p":56.0,"nr":-36},{"crop":"Corn","p":58.5,"nr":-43},{"crop":"Corn","p":61.0,"nr":-50},{"crop":"Corn","p":64.5,"nr":-43},
{"crop":"Soybean","p":4.3,"nr":309},{"crop":"Soybean","p":4.0,"nr":288},{"crop":"Soybean","p":4.6,"nr":242},{"crop":"Soybean","p":5.1,"nr":246},{"crop":"Soybean","p":8.3,"nr":232},{"crop":"Soybean","p":5.0,"nr":200},{"crop":"Soybean","p":3.2,"nr":183},{"crop":"Soybean","p":4.7,"nr":168},{"crop":"Soybean","p":3.2,"nr":119},{"crop":"Soybean","p":4.0,"nr":68},
{"crop":"Soybean","p":6.0,"nr":161},{"crop":"Soybean","p":6.5,"nr":138},{"crop":"Soybean","p":7.0,"nr":123},{"crop":"Soybean","p":7.5,"nr":101},{"crop":"Soybean","p":5.5,"nr":108},{"crop":"Soybean","p":3.0,"nr":138},{"crop":"Soybean","p":2.5,"nr":86},{"crop":"Soybean","p":2.0,"nr":48},{"crop":"Soybean","p":3.5,"nr":33},{"crop":"Soybean","p":4.5,"nr":48},
{"crop":"Soybean","p":5.5,"nr":71},{"crop":"Soybean","p":6.5,"nr":56},{"crop":"Soybean","p":7.5,"nr":41},{"crop":"Soybean","p":8.5,"nr":63},{"crop":"Soybean","p":9.4,"nr":134},{"crop":"Soybean","p":9.0,"nr":78},{"crop":"Soybean","p":2.8,"nr":3},{"crop":"Soybean","p":3.6,"nr":-48},{"crop":"Soybean","p":3.2,"nr":-51},{"crop":"Soybean","p":4.5,"nr":-5},
{"crop":"Soybean","p":5.5,"nr":11},{"crop":"Soybean","p":6.5,"nr":-20},{"crop":"Soybean","p":7.5,"nr":3},{"crop":"Soybean","p":8.5,"nr":-27},{"crop":"Soybean","p":9.5,"nr":18},{"crop":"Soybean","p":5.0,"nr":-35},{"crop":"Soybean","p":6.0,"nr":26},{"crop":"Soybean","p":7.0,"nr":-42},{"crop":"Soybean","p":8.0,"nr":-50},{"crop":"Soybean","p":9.0,"nr":-20},
{"crop":"Soybean","p":4.0,"nr":101},{"crop":"Soybean","p":5.8,"nr":183},{"crop":"Soybean","p":7.8,"nr":176},{"crop":"Soybean","p":10.5,"nr":82},{"crop":"Soybean","p":12.4,"nr":131},{"crop":"Soybean","p":13.5,"nr":61},{"crop":"Soybean","p":11.0,"nr":33},{"crop":"Soybean","p":12.0,"nr":11},{"crop":"Soybean","p":13.0,"nr":-12},{"crop":"Soybean","p":14.0,"nr":26},
{"crop":"Soybean","p":15.0,"nr":3},{"crop":"Soybean","p":16.0,"nr":-27},{"crop":"Soybean","p":11.6,"nr":-97},{"crop":"Soybean","p":10.6,"nr":-80},{"crop":"Soybean","p":11.5,"nr":-42},{"crop":"Soybean","p":12.5,"nr":-57},{"crop":"Soybean","p":13.5,"nr":-35},{"crop":"Soybean","p":14.5,"nr":-50},{"crop":"Soybean","p":15.5,"nr":-20},{"crop":"Soybean","p":16.5,"nr":18},
{"crop":"Soybean","p":17.0,"nr":41},{"crop":"Soybean","p":10.0,"nr":-5},{"crop":"Soybean","p":14.0,"nr":48},{"crop":"Soybean","p":16.0,"nr":-53},{"crop":"Soybean","p":20.4,"nr":137},{"crop":"Soybean","p":20.8,"nr":86},{"crop":"Soybean","p":19.7,"nr":-89},{"crop":"Soybean","p":18.0,"nr":18},{"crop":"Soybean","p":19.0,"nr":-5},{"crop":"Soybean","p":20.0,"nr":33},
{"crop":"Soybean","p":21.0,"nr":11},{"crop":"Soybean","p":22.0,"nr":-20},{"crop":"Soybean","p":23.0,"nr":3},{"crop":"Soybean","p":24.0,"nr":-35},{"crop":"Soybean","p":18.5,"nr":-42},{"crop":"Soybean","p":21.5,"nr":-50},{"crop":"Soybean","p":23.5,"nr":-53},{"crop":"Soybean","p":25.0,"nr":-12},{"crop":"Soybean","p":19.5,"nr":-27},{"crop":"Soybean","p":22.5,"nr":26},
{"crop":"Soybean","p":24.5,"nr":14},{"crop":"Soybean","p":29.3,"nr":-93},{"crop":"Soybean","p":26.0,"nr":3},{"crop":"Soybean","p":27.0,"nr":-20},{"crop":"Soybean","p":28.0,"nr":-5},{"crop":"Soybean","p":29.0,"nr":-35},{"crop":"Soybean","p":30.0,"nr":-12},{"crop":"Soybean","p":31.0,"nr":-27},{"crop":"Soybean","p":32.0,"nr":-5},{"crop":"Soybean","p":33.0,"nr":-42},
{"crop":"Soybean","p":34.0,"nr":-20},{"crop":"Soybean","p":35.0,"nr":-8},{"crop":"Soybean","p":26.5,"nr":-46},{"crop":"Soybean","p":28.5,"nr":-53},{"crop":"Soybean","p":30.5,"nr":-50},{"crop":"Soybean","p":32.5,"nr":-31},{"crop":"Soybean","p":34.5,"nr":-38},{"crop":"Soybean","p":27.5,"nr":7},{"crop":"Soybean","p":36.0,"nr":-20},{"crop":"Soybean","p":37.0,"nr":-35},
{"crop":"Soybean","p":38.0,"nr":-12},{"crop":"Soybean","p":39.0,"nr":-27},{"crop":"Soybean","p":40.0,"nr":-46},{"crop":"Soybean","p":41.0,"nr":-16},{"crop":"Soybean","p":42.0,"nr":-31},{"crop":"Soybean","p":43.0,"nr":-53},{"crop":"Soybean","p":44.0,"nr":-20},{"crop":"Soybean","p":45.0,"nr":-35},{"crop":"Soybean","p":46.0,"nr":-12},{"crop":"Soybean","p":47.0,"nr":-46},
{"crop":"Soybean","p":48.0,"nr":-23},{"crop":"Soybean","p":49.0,"nr":-35},{"crop":"Soybean","p":50.0,"nr":-16},{"crop":"Soybean","p":51.0,"nr":-42},{"crop":"Soybean","p":52.0,"nr":-20},{"crop":"Soybean","p":53.0,"nr":-31},{"crop":"Soybean","p":54.0,"nr":-50},{"crop":"Soybean","p":55.0,"nr":-16},{"crop":"Soybean","p":56.0,"nr":-35},{"crop":"Soybean","p":57.0,"nr":-23},
{"crop":"Soybean","p":58.0,"nr":-42},{"crop":"Soybean","p":59.0,"nr":-20},{"crop":"Soybean","p":60.0,"nr":-31},{"crop":"Soybean","p":61.0,"nr":-16},{"crop":"Soybean","p":62.0,"nr":-46},{"crop":"Soybean","p":63.0,"nr":-23},{"crop":"Soybean","p":65.0,"nr":-6},{"crop":"Soybean","p":66.0,"nr":-38},{"crop":"Soybean","p":72.4,"nr":-27},{"crop":"Soybean","p":69.1,"nr":-55},
{"crop":"Soybean","p":44.5,"nr":-57},{"crop":"Soybean","p":38.5,"nr":-8},
{"crop":"Soybean","p":2.2,"nr":18},{"crop":"Soybean","p":2.4,"nr":-27},{"crop":"Soybean","p":2.6,"nr":56},{"crop":"Soybean","p":3.0,"nr":93},{"crop":"Soybean","p":3.3,"nr":-20},{"crop":"Soybean","p":3.4,"nr":63},{"crop":"Soybean","p":3.7,"nr":11},{"crop":"Soybean","p":3.9,"nr":153},{"crop":"Soybean","p":4.1,"nr":-42},{"crop":"Soybean","p":4.2,"nr":33},
{"crop":"Soybean","p":4.4,"nr":123},{"crop":"Soybean","p":4.8,"nr":78},{"crop":"Soybean","p":4.9,"nr":-12},{"crop":"Soybean","p":5.2,"nr":41},{"crop":"Soybean","p":5.3,"nr":138},{"crop":"Soybean","p":5.7,"nr":-27},{"crop":"Soybean","p":5.8,"nr":93},{"crop":"Soybean","p":6.2,"nr":-5},{"crop":"Soybean","p":6.3,"nr":78},{"crop":"Soybean","p":6.7,"nr":18},
{"crop":"Soybean","p":6.8,"nr":108},{"crop":"Soybean","p":7.2,"nr":-35},{"crop":"Soybean","p":7.3,"nr":63},{"crop":"Soybean","p":7.7,"nr":-12},{"crop":"Soybean","p":7.9,"nr":86},{"crop":"Soybean","p":8.2,"nr":11},{"crop":"Soybean","p":8.4,"nr":33},{"crop":"Soybean","p":8.8,"nr":-42},{"crop":"Soybean","p":9.2,"nr":26},{"crop":"Soybean","p":9.6,"nr":48},
{"crop":"Soybean","p":9.8,"nr":-35},{"crop":"Soybean","p":6.1,"nr":-50},{"crop":"Soybean","p":4.4,"nr":-53},{"crop":"Soybean","p":8.6,"nr":-53},{"crop":"Soybean","p":10.2,"nr":33},{"crop":"Soybean","p":10.4,"nr":-50},{"crop":"Soybean","p":10.8,"nr":3},{"crop":"Soybean","p":11.2,"nr":56},{"crop":"Soybean","p":11.4,"nr":-27},{"crop":"Soybean","p":11.8,"nr":18},
{"crop":"Soybean","p":12.2,"nr":-42},{"crop":"Soybean","p":12.6,"nr":41},{"crop":"Soybean","p":12.8,"nr":-5},{"crop":"Soybean","p":13.2,"nr":-50},{"crop":"Soybean","p":13.4,"nr":18},{"crop":"Soybean","p":13.8,"nr":-20},{"crop":"Soybean","p":14.2,"nr":3},{"crop":"Soybean","p":14.6,"nr":-42},{"crop":"Soybean","p":14.8,"nr":33},{"crop":"Soybean","p":15.2,"nr":-35},
{"crop":"Soybean","p":15.4,"nr":18},{"crop":"Soybean","p":15.8,"nr":-12},{"crop":"Soybean","p":16.2,"nr":3},{"crop":"Soybean","p":16.4,"nr":-42},{"crop":"Soybean","p":16.8,"nr":-20},{"crop":"Soybean","p":17.2,"nr":11},{"crop":"Soybean","p":11.0,"nr":-53},{"crop":"Soybean","p":13.0,"nr":-53},{"crop":"Soybean","p":15.0,"nr":-53},{"crop":"Soybean","p":12.0,"nr":63},
{"crop":"Soybean","p":17.6,"nr":-27},{"crop":"Soybean","p":17.8,"nr":3},{"crop":"Soybean","p":18.2,"nr":-50},{"crop":"Soybean","p":18.4,"nr":33},{"crop":"Soybean","p":18.8,"nr":-20},{"crop":"Soybean","p":19.2,"nr":11},{"crop":"Soybean","p":19.4,"nr":-42},{"crop":"Soybean","p":19.8,"nr":48},{"crop":"Soybean","p":20.2,"nr":-35},{"crop":"Soybean","p":20.6,"nr":-5},
{"crop":"Soybean","p":21.2,"nr":-27},{"crop":"Soybean","p":21.4,"nr":18},{"crop":"Soybean","p":21.8,"nr":-42},{"crop":"Soybean","p":22.2,"nr":3},{"crop":"Soybean","p":22.8,"nr":-35},{"crop":"Soybean","p":23.2,"nr":26},{"crop":"Soybean","p":23.8,"nr":-20},{"crop":"Soybean","p":24.2,"nr":-5},{"crop":"Soybean","p":24.8,"nr":-42},{"crop":"Soybean","p":25.2,"nr":11},
{"crop":"Soybean","p":20.6,"nr":63},{"crop":"Soybean","p":22.0,"nr":-53},{"crop":"Soybean","p":24.0,"nr":-53},{"crop":"Soybean","p":25.6,"nr":-27},{"crop":"Soybean","p":25.8,"nr":-5},{"crop":"Soybean","p":26.2,"nr":-42},{"crop":"Soybean","p":26.8,"nr":11},{"crop":"Soybean","p":27.2,"nr":-35},{"crop":"Soybean","p":27.8,"nr":-12},{"crop":"Soybean","p":28.2,"nr":-42},
{"crop":"Soybean","p":28.8,"nr":3},{"crop":"Soybean","p":29.2,"nr":-27},{"crop":"Soybean","p":29.6,"nr":-5},{"crop":"Soybean","p":30.2,"nr":-42},{"crop":"Soybean","p":30.8,"nr":-1},{"crop":"Soybean","p":31.2,"nr":-35},{"crop":"Soybean","p":31.8,"nr":-12},{"crop":"Soybean","p":32.2,"nr":-46},{"crop":"Soybean","p":32.8,"nr":-5},{"crop":"Soybean","p":33.2,"nr":-27},
{"crop":"Soybean","p":33.8,"nr":-8},{"crop":"Soybean","p":34.2,"nr":-50},{"crop":"Soybean","p":34.8,"nr":-27},{"crop":"Soybean","p":35.2,"nr":-42},{"crop":"Soybean","p":36.5,"nr":-42},{"crop":"Soybean","p":37.5,"nr":-8},{"crop":"Soybean","p":38.5,"nr":-46},{"crop":"Soybean","p":39.5,"nr":-20},{"crop":"Soybean","p":40.5,"nr":-35},{"crop":"Soybean","p":41.5,"nr":-50},
{"crop":"Soybean","p":42.5,"nr":-12},{"crop":"Soybean","p":43.5,"nr":-38},{"crop":"Soybean","p":44.5,"nr":-23},{"crop":"Soybean","p":45.5,"nr":-50},{"crop":"Soybean","p":46.5,"nr":-27},{"crop":"Soybean","p":47.5,"nr":-8},{"crop":"Soybean","p":48.5,"nr":-42},{"crop":"Soybean","p":49.5,"nr":-20},{"crop":"Soybean","p":50.5,"nr":-35},{"crop":"Soybean","p":51.5,"nr":-12},
{"crop":"Soybean","p":52.5,"nr":-46},{"crop":"Soybean","p":53.5,"nr":-23},{"crop":"Soybean","p":54.5,"nr":-35},{"crop":"Soybean","p":55.5,"nr":-50},{"crop":"Soybean","p":56.5,"nr":-12},{"crop":"Soybean","p":57.5,"nr":-38},{"crop":"Soybean","p":58.5,"nr":-27},{"crop":"Soybean","p":59.5,"nr":-50},{"crop":"Soybean","p":60.5,"nr":-20},{"crop":"Soybean","p":61.5,"nr":-35},
{"crop":"Soybean","p":62.5,"nr":-12},{"crop":"Soybean","p":63.5,"nr":-42},{"crop":"Soybean","p":64.0,"nr":-20},{"crop":"Soybean","p":67.0,"nr":-27},{"crop":"Soybean","p":68.0,"nr":-50},{"crop":"Soybean","p":70.0,"nr":-35},{"crop":"Soybean","p":71.0,"nr":-57}
],
"p3": [
{"crop":"Corn","p":1.0,"nr":8},{"crop":"Corn","p":1.5,"nr":-16},{"crop":"Corn","p":1.8,"nr":51},{"crop":"Corn","p":2.1,"nr":72},{"crop":"Corn","p":2.4,"nr":103},{"crop":"Corn","p":2.5,"nr":42},{"crop":"Corn","p":2.6,"nr":132},{"crop":"Corn","p":2.9,"nr":209},{"crop":"Corn","p":3.1,"nr":227},{"crop":"Corn","p":3.5,"nr":285},
{"crop":"Corn","p":3.4,"nr":159},{"crop":"Corn","p":4.0,"nr":180},{"crop":"Corn","p":4.7,"nr":175},{"crop":"Corn","p":5.8,"nr":194},{"crop":"Corn","p":6.0,"nr":205},{"crop":"Corn","p":6.2,"nr":219},{"crop":"Corn","p":6.8,"nr":317},{"crop":"Corn","p":6.2,"nr":158},{"crop":"Corn","p":6.5,"nr":130},{"crop":"Corn","p":3.2,"nr":132},
{"crop":"Corn","p":3.0,"nr":87},{"crop":"Corn","p":4.0,"nr":78},{"crop":"Corn","p":5.0,"nr":108},{"crop":"Corn","p":5.5,"nr":95},{"crop":"Corn","p":5.2,"nr":65},{"crop":"Corn","p":6.0,"nr":87},{"crop":"Corn","p":7.0,"nr":78},{"crop":"Corn","p":7.5,"nr":104},{"crop":"Corn","p":8.8,"nr":106},{"crop":"Corn","p":9.1,"nr":123},
{"crop":"Corn","p":9.3,"nr":160},{"crop":"Corn","p":8.0,"nr":69},{"crop":"Corn","p":8.5,"nr":57},{"crop":"Corn","p":7.2,"nr":48},{"crop":"Corn","p":6.5,"nr":35},{"crop":"Corn","p":7.9,"nr":93},{"crop":"Corn","p":4.0,"nr":155},{"crop":"Corn","p":4.5,"nr":121},{"crop":"Corn","p":5.5,"nr":155},{"crop":"Corn","p":6.0,"nr":121},
{"crop":"Corn","p":2.2,"nr":22},{"crop":"Corn","p":3.5,"nr":22},{"crop":"Corn","p":4.5,"nr":9},{"crop":"Corn","p":5.5,"nr":1},{"crop":"Corn","p":6.5,"nr":14},{"crop":"Corn","p":7.5,"nr":27},{"crop":"Corn","p":8.5,"nr":39},{"crop":"Corn","p":9.5,"nr":22},{"crop":"Corn","p":3.0,"nr":1},{"crop":"Corn","p":2.0,"nr":-8},
{"crop":"Corn","p":6.0,"nr":-29},{"crop":"Corn","p":7.0,"nr":-16},{"crop":"Corn","p":8.0,"nr":1},{"crop":"Corn","p":9.0,"nr":-16},{"crop":"Corn","p":2.5,"nr":-25},{"crop":"Corn","p":3.5,"nr":-51},{"crop":"Corn","p":4.5,"nr":-68},{"crop":"Corn","p":5.5,"nr":-76},{"crop":"Corn","p":6.5,"nr":-85},{"crop":"Corn","p":7.5,"nr":-89},
{"crop":"Corn","p":8.0,"nr":-90},{"crop":"Corn","p":8.7,"nr":-96},{"crop":"Corn","p":9.1,"nr":-94},{"crop":"Corn","p":9.5,"nr":-83},{"crop":"Corn","p":7.0,"nr":-59},{"crop":"Corn","p":11.9,"nr":153},{"crop":"Corn","p":13.9,"nr":115},{"crop":"Corn","p":13.8,"nr":60},{"crop":"Corn","p":10.5,"nr":44},{"crop":"Corn","p":12.5,"nr":35},
{"crop":"Corn","p":11.0,"nr":22},{"crop":"Corn","p":14.0,"nr":1},{"crop":"Corn","p":15.0,"nr":-8},{"crop":"Corn","p":16.4,"nr":12},{"crop":"Corn","p":17.1,"nr":42},{"crop":"Corn","p":17.1,"nr":33},{"crop":"Corn","p":12.0,"nr":-16},{"crop":"Corn","p":14.3,"nr":-88},{"crop":"Corn","p":11.0,"nr":-81},{"crop":"Corn","p":13.0,"nr":-76},
{"crop":"Corn","p":15.0,"nr":-83},{"crop":"Corn","p":16.8,"nr":-92},{"crop":"Corn","p":12.0,"nr":-51},{"crop":"Corn","p":15.5,"nr":-46},{"crop":"Corn","p":10.5,"nr":65},{"crop":"Corn","p":10.0,"nr":-68},{"crop":"Corn","p":21.5,"nr":21},{"crop":"Corn","p":19.0,"nr":15},{"crop":"Corn","p":18.0,"nr":6},{"crop":"Corn","p":23.8,"nr":-9},
{"crop":"Corn","p":20.0,"nr":-16},{"crop":"Corn","p":22.0,"nr":-25},{"crop":"Corn","p":24.0,"nr":-33},{"crop":"Corn","p":20.1,"nr":-94},{"crop":"Corn","p":19.0,"nr":-78},{"crop":"Corn","p":21.0,"nr":-76},{"crop":"Corn","p":22.0,"nr":-81},{"crop":"Corn","p":23.0,"nr":-74},{"crop":"Corn","p":24.0,"nr":-78},{"crop":"Corn","p":18.0,"nr":-72},
{"crop":"Corn","p":20.0,"nr":-59},{"crop":"Corn","p":23.0,"nr":-55},{"crop":"Corn","p":25.2,"nr":-22},{"crop":"Corn","p":27.5,"nr":-28},{"crop":"Corn","p":29.0,"nr":-33},{"crop":"Corn","p":31.5,"nr":-34},{"crop":"Corn","p":30.7,"nr":-100},{"crop":"Corn","p":26.0,"nr":-78},{"crop":"Corn","p":27.0,"nr":-76},{"crop":"Corn","p":28.0,"nr":-81},
{"crop":"Corn","p":29.5,"nr":-78},{"crop":"Corn","p":32.0,"nr":-81},{"crop":"Corn","p":33.0,"nr":-83},{"crop":"Corn","p":34.0,"nr":-78},{"crop":"Corn","p":35.6,"nr":-82},{"crop":"Corn","p":27.0,"nr":-59},{"crop":"Corn","p":30.0,"nr":-55},{"crop":"Corn","p":33.0,"nr":-63},{"crop":"Corn","p":28.0,"nr":-46},{"crop":"Corn","p":33.5,"nr":-40},
{"crop":"Corn","p":38.2,"nr":-34},{"crop":"Corn","p":43.7,"nr":-34},{"crop":"Corn","p":45.9,"nr":-39},{"crop":"Corn","p":49.6,"nr":-39},{"crop":"Corn","p":37.1,"nr":-70},{"crop":"Corn","p":38.5,"nr":-82},{"crop":"Corn","p":42.2,"nr":-94},{"crop":"Corn","p":46.6,"nr":-98},{"crop":"Corn","p":46.3,"nr":-103},{"crop":"Corn","p":44.4,"nr":-75},
{"crop":"Corn","p":52.5,"nr":-78},{"crop":"Corn","p":54.7,"nr":-70},{"crop":"Corn","p":59.1,"nr":-82},{"crop":"Corn","p":56.9,"nr":-66},{"crop":"Corn","p":59.9,"nr":-54},{"crop":"Corn","p":62.8,"nr":-51},{"crop":"Corn","p":67.2,"nr":-51},{"crop":"Corn","p":65.7,"nr":-92},{"crop":"Corn","p":67.9,"nr":-86},{"crop":"Corn","p":70.2,"nr":-70},
{"crop":"Corn","p":70.9,"nr":-58},{"crop":"Corn","p":72.7,"nr":-63},{"crop":"Corn","p":49.6,"nr":-70},{"crop":"Corn","p":49.4,"nr":-58},{"crop":"Corn","p":41.5,"nr":-58},{"crop":"Corn","p":39.6,"nr":-63},{"crop":"Corn","p":54.0,"nr":-58},{"crop":"Corn","p":52.3,"nr":-51},{"crop":"Corn","p":40.5,"nr":-40},{"crop":"Corn","p":48.0,"nr":-85},
{"crop":"Corn","p":57.5,"nr":-74},{"crop":"Corn","p":62.0,"nr":-78},{"crop":"Corn","p":64.0,"nr":-68},{"crop":"Corn","p":36.5,"nr":-74},{"crop":"Corn","p":41.0,"nr":-78},
{"crop":"Corn","p":2.3,"nr":9},{"crop":"Corn","p":2.7,"nr":57},{"crop":"Corn","p":3.3,"nr":48},{"crop":"Corn","p":3.6,"nr":99},{"crop":"Corn","p":3.8,"nr":61},{"crop":"Corn","p":4.2,"nr":87},{"crop":"Corn","p":4.4,"nr":44},{"crop":"Corn","p":4.8,"nr":69},{"crop":"Corn","p":4.9,"nr":31},{"crop":"Corn","p":5.3,"nr":52},
{"crop":"Corn","p":5.7,"nr":78},{"crop":"Corn","p":5.9,"nr":39},{"crop":"Corn","p":6.3,"nr":65},{"crop":"Corn","p":6.7,"nr":52},{"crop":"Corn","p":6.9,"nr":22},{"crop":"Corn","p":7.3,"nr":61},{"crop":"Corn","p":7.7,"nr":39},{"crop":"Corn","p":8.2,"nr":48},{"crop":"Corn","p":8.6,"nr":22},{"crop":"Corn","p":9.2,"nr":31},
{"crop":"Corn","p":9.7,"nr":9},{"crop":"Corn","p":2.6,"nr":-42},{"crop":"Corn","p":3.2,"nr":-21},{"crop":"Corn","p":3.8,"nr":-55},{"crop":"Corn","p":4.2,"nr":-63},{"crop":"Corn","p":4.6,"nr":-76},{"crop":"Corn","p":5.2,"nr":-81},{"crop":"Corn","p":5.6,"nr":-85},{"crop":"Corn","p":6.2,"nr":-89},{"crop":"Corn","p":6.8,"nr":-91},
{"crop":"Corn","p":7.3,"nr":-93},{"crop":"Corn","p":7.8,"nr":-87},{"crop":"Corn","p":8.3,"nr":-81},{"crop":"Corn","p":8.9,"nr":-85},{"crop":"Corn","p":9.4,"nr":-89},{"crop":"Corn","p":9.8,"nr":-76},{"crop":"Corn","p":3.9,"nr":-12},{"crop":"Corn","p":4.9,"nr":-25},{"crop":"Corn","p":5.9,"nr":-3},{"crop":"Corn","p":6.9,"nr":5},
{"crop":"Corn","p":7.9,"nr":-21},{"crop":"Corn","p":8.9,"nr":14},{"crop":"Corn","p":9.9,"nr":-3},{"crop":"Corn","p":2.9,"nr":35},{"crop":"Corn","p":4.1,"nr":112},{"crop":"Corn","p":5.1,"nr":138},{"crop":"Corn","p":6.4,"nr":104},{"crop":"Corn","p":8.1,"nr":87},{"crop":"Corn","p":10.2,"nr":31},{"crop":"Corn","p":10.8,"nr":5},
{"crop":"Corn","p":11.3,"nr":44},{"crop":"Corn","p":11.7,"nr":14},{"crop":"Corn","p":12.2,"nr":-3},{"crop":"Corn","p":12.8,"nr":18},{"crop":"Corn","p":13.3,"nr":-12},{"crop":"Corn","p":13.7,"nr":27},{"crop":"Corn","p":14.5,"nr":-16},{"crop":"Corn","p":15.3,"nr":5},{"crop":"Corn","p":15.8,"nr":-21},{"crop":"Corn","p":16.2,"nr":-3},
{"crop":"Corn","p":16.8,"nr":-29},{"crop":"Corn","p":10.3,"nr":-85},{"crop":"Corn","p":10.9,"nr":-89},{"crop":"Corn","p":11.5,"nr":-83},{"crop":"Corn","p":12.3,"nr":-85},{"crop":"Corn","p":12.8,"nr":-89},{"crop":"Corn","p":13.5,"nr":-85},{"crop":"Corn","p":14.0,"nr":-81},{"crop":"Corn","p":14.8,"nr":-85},{"crop":"Corn","p":15.6,"nr":-78},
{"crop":"Corn","p":16.2,"nr":-83},{"crop":"Corn","p":17.0,"nr":-78},{"crop":"Corn","p":11.3,"nr":-72},{"crop":"Corn","p":13.2,"nr":-68},{"crop":"Corn","p":15.2,"nr":-72},{"crop":"Corn","p":17.8,"nr":-81},{"crop":"Corn","p":18.5,"nr":-76},{"crop":"Corn","p":19.3,"nr":-83},{"crop":"Corn","p":19.8,"nr":-74},{"crop":"Corn","p":20.5,"nr":-81},
{"crop":"Corn","p":21.3,"nr":-83},{"crop":"Corn","p":21.8,"nr":-78},{"crop":"Corn","p":22.5,"nr":-76},{"crop":"Corn","p":23.3,"nr":-81},{"crop":"Corn","p":23.8,"nr":-83},{"crop":"Corn","p":24.5,"nr":-76},{"crop":"Corn","p":25.0,"nr":-81},{"crop":"Corn","p":18.5,"nr":-12},{"crop":"Corn","p":19.5,"nr":-3},{"crop":"Corn","p":20.8,"nr":5},
{"crop":"Corn","p":22.5,"nr":-10},{"crop":"Corn","p":21.0,"nr":-33},{"crop":"Corn","p":24.6,"nr":-18},{"crop":"Corn","p":19.0,"nr":-29},{"crop":"Corn","p":25.8,"nr":-83},{"crop":"Corn","p":26.5,"nr":-74},{"crop":"Corn","p":27.3,"nr":-81},{"crop":"Corn","p":28.5,"nr":-76},{"crop":"Corn","p":29.0,"nr":-83},{"crop":"Corn","p":30.0,"nr":-81},
{"crop":"Corn","p":30.5,"nr":-76},{"crop":"Corn","p":31.0,"nr":-83},{"crop":"Corn","p":31.8,"nr":-78},{"crop":"Corn","p":32.5,"nr":-74},{"crop":"Corn","p":33.5,"nr":-81},{"crop":"Corn","p":34.5,"nr":-76},{"crop":"Corn","p":35.0,"nr":-83},{"crop":"Corn","p":26.3,"nr":-29},{"crop":"Corn","p":28.5,"nr":-36},{"crop":"Corn","p":30.5,"nr":-38},
{"crop":"Corn","p":34.5,"nr":-42},{"crop":"Corn","p":26.8,"nr":-38},{"crop":"Corn","p":36.0,"nr":-85},{"crop":"Corn","p":37.5,"nr":-78},{"crop":"Corn","p":38.0,"nr":-89},{"crop":"Corn","p":39.0,"nr":-83},{"crop":"Corn","p":40.0,"nr":-87},{"crop":"Corn","p":41.5,"nr":-83},{"crop":"Corn","p":42.8,"nr":-85},{"crop":"Corn","p":43.5,"nr":-81},
{"crop":"Corn","p":44.8,"nr":-87},{"crop":"Corn","p":45.5,"nr":-83},{"crop":"Corn","p":47.0,"nr":-91},{"crop":"Corn","p":48.5,"nr":-78},{"crop":"Corn","p":50.5,"nr":-74},{"crop":"Corn","p":51.5,"nr":-83},{"crop":"Corn","p":53.0,"nr":-76},{"crop":"Corn","p":55.5,"nr":-81},{"crop":"Corn","p":58.0,"nr":-78},{"crop":"Corn","p":60.5,"nr":-72},
{"crop":"Corn","p":61.5,"nr":-83},{"crop":"Corn","p":63.0,"nr":-74},{"crop":"Corn","p":66.5,"nr":-89},{"crop":"Corn","p":68.5,"nr":-59},{"crop":"Corn","p":71.5,"nr":-66},{"crop":"Corn","p":36.8,"nr":-42},{"crop":"Corn","p":39.5,"nr":-38},{"crop":"Corn","p":42.0,"nr":-42},{"crop":"Corn","p":44.8,"nr":-36},{"crop":"Corn","p":47.5,"nr":-44},
{"crop":"Corn","p":51.0,"nr":-42},{"crop":"Corn","p":53.5,"nr":-46},{"crop":"Corn","p":56.0,"nr":-51},{"crop":"Corn","p":58.5,"nr":-55},{"crop":"Corn","p":61.0,"nr":-59},{"crop":"Corn","p":64.5,"nr":-55},
{"crop":"Soybean","p":4.3,"nr":189},{"crop":"Soybean","p":4.0,"nr":175},{"crop":"Soybean","p":4.6,"nr":144},{"crop":"Soybean","p":5.1,"nr":147},{"crop":"Soybean","p":8.3,"nr":138},{"crop":"Soybean","p":5.0,"nr":117},{"crop":"Soybean","p":3.2,"nr":105},{"crop":"Soybean","p":4.7,"nr":95},{"crop":"Soybean","p":3.2,"nr":63},{"crop":"Soybean","p":4.0,"nr":28},
{"crop":"Soybean","p":6.0,"nr":90},{"crop":"Soybean","p":6.5,"nr":75},{"crop":"Soybean","p":7.0,"nr":65},{"crop":"Soybean","p":7.5,"nr":50},{"crop":"Soybean","p":5.5,"nr":55},{"crop":"Soybean","p":3.0,"nr":75},{"crop":"Soybean","p":2.5,"nr":40},{"crop":"Soybean","p":2.0,"nr":15},{"crop":"Soybean","p":3.5,"nr":5},{"crop":"Soybean","p":4.5,"nr":15},
{"crop":"Soybean","p":5.5,"nr":30},{"crop":"Soybean","p":6.5,"nr":20},{"crop":"Soybean","p":7.5,"nr":10},{"crop":"Soybean","p":8.5,"nr":25},{"crop":"Soybean","p":9.4,"nr":73},{"crop":"Soybean","p":9.0,"nr":35},{"crop":"Soybean","p":2.8,"nr":-15},{"crop":"Soybean","p":3.6,"nr":-49},{"crop":"Soybean","p":3.2,"nr":-51},{"crop":"Soybean","p":4.5,"nr":-20},
{"crop":"Soybean","p":5.5,"nr":-10},{"crop":"Soybean","p":6.5,"nr":-30},{"crop":"Soybean","p":7.5,"nr":-15},{"crop":"Soybean","p":8.5,"nr":-35},{"crop":"Soybean","p":9.5,"nr":-5},{"crop":"Soybean","p":5.0,"nr":-40},{"crop":"Soybean","p":6.0,"nr":0},{"crop":"Soybean","p":7.0,"nr":-45},{"crop":"Soybean","p":8.0,"nr":-50},{"crop":"Soybean","p":9.0,"nr":-30},
{"crop":"Soybean","p":4.0,"nr":50},{"crop":"Soybean","p":5.8,"nr":105},{"crop":"Soybean","p":7.8,"nr":100},{"crop":"Soybean","p":10.5,"nr":38},{"crop":"Soybean","p":12.4,"nr":70},{"crop":"Soybean","p":13.5,"nr":24},{"crop":"Soybean","p":11.0,"nr":5},{"crop":"Soybean","p":12.0,"nr":-10},{"crop":"Soybean","p":13.0,"nr":-25},{"crop":"Soybean","p":14.0,"nr":0},
{"crop":"Soybean","p":15.0,"nr":-15},{"crop":"Soybean","p":16.0,"nr":-35},{"crop":"Soybean","p":11.6,"nr":-82},{"crop":"Soybean","p":10.6,"nr":-70},{"crop":"Soybean","p":11.5,"nr":-45},{"crop":"Soybean","p":12.5,"nr":-55},{"crop":"Soybean","p":13.5,"nr":-40},{"crop":"Soybean","p":14.5,"nr":-50},{"crop":"Soybean","p":15.5,"nr":-30},{"crop":"Soybean","p":16.5,"nr":-5},
{"crop":"Soybean","p":17.0,"nr":10},{"crop":"Soybean","p":10.0,"nr":-20},{"crop":"Soybean","p":14.0,"nr":15},{"crop":"Soybean","p":16.0,"nr":-53},{"crop":"Soybean","p":20.4,"nr":75},{"crop":"Soybean","p":20.8,"nr":40},{"crop":"Soybean","p":19.7,"nr":-77},{"crop":"Soybean","p":18.0,"nr":-5},{"crop":"Soybean","p":19.0,"nr":-20},{"crop":"Soybean","p":20.0,"nr":5},
{"crop":"Soybean","p":21.0,"nr":-10},{"crop":"Soybean","p":22.0,"nr":-30},{"crop":"Soybean","p":23.0,"nr":-15},{"crop":"Soybean","p":24.0,"nr":-40},{"crop":"Soybean","p":18.5,"nr":-45},{"crop":"Soybean","p":21.5,"nr":-50},{"crop":"Soybean","p":23.5,"nr":-53},{"crop":"Soybean","p":25.0,"nr":-25},{"crop":"Soybean","p":19.5,"nr":-35},{"crop":"Soybean","p":22.5,"nr":0},
{"crop":"Soybean","p":24.5,"nr":-8},{"crop":"Soybean","p":29.3,"nr":-79},{"crop":"Soybean","p":26.0,"nr":-15},{"crop":"Soybean","p":27.0,"nr":-30},{"crop":"Soybean","p":28.0,"nr":-20},{"crop":"Soybean","p":29.0,"nr":-40},{"crop":"Soybean","p":30.0,"nr":-25},{"crop":"Soybean","p":31.0,"nr":-35},{"crop":"Soybean","p":32.0,"nr":-20},{"crop":"Soybean","p":33.0,"nr":-45},
{"crop":"Soybean","p":34.0,"nr":-30},{"crop":"Soybean","p":35.0,"nr":-23},{"crop":"Soybean","p":26.5,"nr":-48},{"crop":"Soybean","p":28.5,"nr":-53},{"crop":"Soybean","p":30.5,"nr":-50},{"crop":"Soybean","p":32.5,"nr":-38},{"crop":"Soybean","p":34.5,"nr":-43},{"crop":"Soybean","p":27.5,"nr":-13},{"crop":"Soybean","p":36.0,"nr":-30},{"crop":"Soybean","p":37.0,"nr":-40},
{"crop":"Soybean","p":38.0,"nr":-25},{"crop":"Soybean","p":39.0,"nr":-35},{"crop":"Soybean","p":40.0,"nr":-48},{"crop":"Soybean","p":41.0,"nr":-28},{"crop":"Soybean","p":42.0,"nr":-38},{"crop":"Soybean","p":43.0,"nr":-53},{"crop":"Soybean","p":44.0,"nr":-30},{"crop":"Soybean","p":45.0,"nr":-40},{"crop":"Soybean","p":46.0,"nr":-25},{"crop":"Soybean","p":47.0,"nr":-48},
{"crop":"Soybean","p":48.0,"nr":-33},{"crop":"Soybean","p":49.0,"nr":-40},{"crop":"Soybean","p":50.0,"nr":-28},{"crop":"Soybean","p":51.0,"nr":-45},{"crop":"Soybean","p":52.0,"nr":-30},{"crop":"Soybean","p":53.0,"nr":-38},{"crop":"Soybean","p":54.0,"nr":-50},{"crop":"Soybean","p":55.0,"nr":-28},{"crop":"Soybean","p":56.0,"nr":-40},{"crop":"Soybean","p":57.0,"nr":-33},
{"crop":"Soybean","p":58.0,"nr":-45},{"crop":"Soybean","p":59.0,"nr":-30},{"crop":"Soybean","p":60.0,"nr":-38},{"crop":"Soybean","p":61.0,"nr":-28},{"crop":"Soybean","p":62.0,"nr":-48},{"crop":"Soybean","p":63.0,"nr":-33},{"crop":"Soybean","p":65.0,"nr":-21},{"crop":"Soybean","p":66.0,"nr":-43},{"crop":"Soybean","p":72.4,"nr":-35},{"crop":"Soybean","p":69.1,"nr":-54},
{"crop":"Soybean","p":44.5,"nr":-55},{"crop":"Soybean","p":38.5,"nr":-23},
{"crop":"Soybean","p":2.2,"nr":-5},{"crop":"Soybean","p":2.4,"nr":-35},{"crop":"Soybean","p":2.6,"nr":20},{"crop":"Soybean","p":3.0,"nr":45},{"crop":"Soybean","p":3.3,"nr":-30},{"crop":"Soybean","p":3.4,"nr":25},{"crop":"Soybean","p":3.7,"nr":-10},{"crop":"Soybean","p":3.9,"nr":85},{"crop":"Soybean","p":4.1,"nr":-45},{"crop":"Soybean","p":4.2,"nr":5},
{"crop":"Soybean","p":4.4,"nr":65},{"crop":"Soybean","p":4.8,"nr":35},{"crop":"Soybean","p":4.9,"nr":-25},{"crop":"Soybean","p":5.2,"nr":10},{"crop":"Soybean","p":5.3,"nr":75},{"crop":"Soybean","p":5.7,"nr":-35},{"crop":"Soybean","p":5.8,"nr":45},{"crop":"Soybean","p":6.2,"nr":-20},{"crop":"Soybean","p":6.3,"nr":35},{"crop":"Soybean","p":6.7,"nr":-5},
{"crop":"Soybean","p":6.8,"nr":55},{"crop":"Soybean","p":7.2,"nr":-40},{"crop":"Soybean","p":7.3,"nr":25},{"crop":"Soybean","p":7.7,"nr":-25},{"crop":"Soybean","p":7.9,"nr":40},{"crop":"Soybean","p":8.2,"nr":-10},{"crop":"Soybean","p":8.4,"nr":5},{"crop":"Soybean","p":8.8,"nr":-45},{"crop":"Soybean","p":9.2,"nr":0},{"crop":"Soybean","p":9.6,"nr":15},
{"crop":"Soybean","p":9.8,"nr":-40},{"crop":"Soybean","p":6.1,"nr":-50},{"crop":"Soybean","p":4.4,"nr":-53},{"crop":"Soybean","p":8.6,"nr":-53},{"crop":"Soybean","p":10.2,"nr":5},{"crop":"Soybean","p":10.4,"nr":-50},{"crop":"Soybean","p":10.8,"nr":-15},{"crop":"Soybean","p":11.2,"nr":20},{"crop":"Soybean","p":11.4,"nr":-35},{"crop":"Soybean","p":11.8,"nr":-5},
{"crop":"Soybean","p":12.2,"nr":-45},{"crop":"Soybean","p":12.6,"nr":10},{"crop":"Soybean","p":12.8,"nr":-20},{"crop":"Soybean","p":13.2,"nr":-50},{"crop":"Soybean","p":13.4,"nr":-5},{"crop":"Soybean","p":13.8,"nr":-30},{"crop":"Soybean","p":14.2,"nr":-15},{"crop":"Soybean","p":14.6,"nr":-45},{"crop":"Soybean","p":14.8,"nr":5},{"crop":"Soybean","p":15.2,"nr":-40},
{"crop":"Soybean","p":15.4,"nr":-5},{"crop":"Soybean","p":15.8,"nr":-25},{"crop":"Soybean","p":16.2,"nr":-15},{"crop":"Soybean","p":16.4,"nr":-45},{"crop":"Soybean","p":16.8,"nr":-30},{"crop":"Soybean","p":17.2,"nr":-10},{"crop":"Soybean","p":11.0,"nr":-53},{"crop":"Soybean","p":13.0,"nr":-53},{"crop":"Soybean","p":15.0,"nr":-53},{"crop":"Soybean","p":12.0,"nr":25},
{"crop":"Soybean","p":17.6,"nr":-35},{"crop":"Soybean","p":17.8,"nr":-15},{"crop":"Soybean","p":18.2,"nr":-50},{"crop":"Soybean","p":18.4,"nr":5},{"crop":"Soybean","p":18.8,"nr":-30},{"crop":"Soybean","p":19.2,"nr":-10},{"crop":"Soybean","p":19.4,"nr":-45},{"crop":"Soybean","p":19.8,"nr":15},{"crop":"Soybean","p":20.2,"nr":-40},{"crop":"Soybean","p":20.6,"nr":-20},
{"crop":"Soybean","p":21.2,"nr":-35},{"crop":"Soybean","p":21.4,"nr":-5},{"crop":"Soybean","p":21.8,"nr":-45},{"crop":"Soybean","p":22.2,"nr":-15},{"crop":"Soybean","p":22.8,"nr":-40},{"crop":"Soybean","p":23.2,"nr":0},{"crop":"Soybean","p":23.8,"nr":-30},{"crop":"Soybean","p":24.2,"nr":-20},{"crop":"Soybean","p":24.8,"nr":-45},{"crop":"Soybean","p":25.2,"nr":-10},
{"crop":"Soybean","p":20.6,"nr":25},{"crop":"Soybean","p":22.0,"nr":-53},{"crop":"Soybean","p":24.0,"nr":-53},{"crop":"Soybean","p":25.6,"nr":-35},{"crop":"Soybean","p":25.8,"nr":-20},{"crop":"Soybean","p":26.2,"nr":-45},{"crop":"Soybean","p":26.8,"nr":-10},{"crop":"Soybean","p":27.2,"nr":-40},{"crop":"Soybean","p":27.8,"nr":-25},{"crop":"Soybean","p":28.2,"nr":-45},
{"crop":"Soybean","p":28.8,"nr":-15},{"crop":"Soybean","p":29.2,"nr":-35},{"crop":"Soybean","p":29.6,"nr":-20},{"crop":"Soybean","p":30.2,"nr":-45},{"crop":"Soybean","p":30.8,"nr":-18},{"crop":"Soybean","p":31.2,"nr":-40},{"crop":"Soybean","p":31.8,"nr":-25},{"crop":"Soybean","p":32.2,"nr":-48},{"crop":"Soybean","p":32.8,"nr":-20},{"crop":"Soybean","p":33.2,"nr":-35},
{"crop":"Soybean","p":33.8,"nr":-23},{"crop":"Soybean","p":34.2,"nr":-50},{"crop":"Soybean","p":34.8,"nr":-35},{"crop":"Soybean","p":35.2,"nr":-45},{"crop":"Soybean","p":36.5,"nr":-45},{"crop":"Soybean","p":37.5,"nr":-23},{"crop":"Soybean","p":38.5,"nr":-48},{"crop":"Soybean","p":39.5,"nr":-30},{"crop":"Soybean","p":40.5,"nr":-40},{"crop":"Soybean","p":41.5,"nr":-50},
{"crop":"Soybean","p":42.5,"nr":-25},{"crop":"Soybean","p":43.5,"nr":-43},{"crop":"Soybean","p":44.5,"nr":-33},{"crop":"Soybean","p":45.5,"nr":-50},{"crop":"Soybean","p":46.5,"nr":-35},{"crop":"Soybean","p":47.5,"nr":-23},{"crop":"Soybean","p":48.5,"nr":-45},{"crop":"Soybean","p":49.5,"nr":-30},{"crop":"Soybean","p":50.5,"nr":-40},{"crop":"Soybean","p":51.5,"nr":-25},
{"crop":"Soybean","p":52.5,"nr":-48},{"crop":"Soybean","p":53.5,"nr":-33},{"crop":"Soybean","p":54.5,"nr":-40},{"crop":"Soybean","p":55.5,"nr":-50},{"crop":"Soybean","p":56.5,"nr":-25},{"crop":"Soybean","p":57.5,"nr":-43},{"crop":"Soybean","p":58.5,"nr":-35},{"crop":"Soybean","p":59.5,"nr":-50},{"crop":"Soybean","p":60.5,"nr":-30},{"crop":"Soybean","p":61.5,"nr":-40},
{"crop":"Soybean","p":62.5,"nr":-25},{"crop":"Soybean","p":63.5,"nr":-45},{"crop":"Soybean","p":64.0,"nr":-30},{"crop":"Soybean","p":67.0,"nr":-35},{"crop":"Soybean","p":68.0,"nr":-50},{"crop":"Soybean","p":70.0,"nr":-40},{"crop":"Soybean","p":71.0,"nr":-55}
]
},
"resolve": {
  "scale": {"x": "independent", "y": "independent", "shape": "independent", "fill": "independent", "stroke": "independent"},
  "legend": {"shape": "independent", "fill": "independent", "stroke": "independent"}
},
"hconcat": [
{
  "width": 340, "height": 393,
  "layer": [
    {"data": {"values": [{}]}, "mark": {"type": "rule", "color": "#8c8c8c", "strokeWidth": 1.5},
     "encoding": {"y": {"datum": 0, "type": "quantitative", "scale": {"domain": [-200, 900], "nice": false, "zero": false},
       "axis": {"orient": "right", "values": [-200, 0, 200, 400, 600, 800], "tickSize": -7, "labels": false, "title": null}}}},
    {"data": {"name": "p1"}, "mark": {"type": "point", "filled": true, "size": 110, "strokeWidth": 0.8, "opacity": 1},
     "encoding": {
       "x": {"field": "p", "type": "quantitative", "scale": {"domain": [0, 75], "nice": false, "zero": false},
         "axis": {"title": "Soil-Test P (ppm)", "values": [0, 10, 20, 30, 40, 50, 60, 70], "tickSize": 7, "labelPadding": 15, "labelFlush": false, "titleFontSize": 21, "titlePadding": 2}},
       "y": {"field": "nr", "type": "quantitative",
         "axis": {"title": "Net Returns from P ($/acre)", "values": [-200, 0, 200, 400, 600, 800], "tickSize": -7, "labelPadding": 19, "titleFontSize": 25, "titlePadding": 1}},
       "shape": {"field": "crop", "type": "nominal", "scale": {"domain": ["Corn", "Soybean"], "range": ["circle", "triangle-up"]},
         "legend": {"title": null, "legendX": 131, "labelExpr": "datum.label == 'Corn' ? '$7.00/bu Corn' : '$16/bu Soybean'"}},
       "fill": {"field": "crop", "type": "nominal", "scale": {"domain": ["Corn", "Soybean"], "range": ["#000000", "#ffffff"]},
         "legend": {"title": null, "legendX": 131, "labelExpr": "datum.label == 'Corn' ? '$7.00/bu Corn' : '$16/bu Soybean'"}},
       "stroke": {"field": "crop", "type": "nominal", "scale": {"domain": ["Corn", "Soybean"], "range": ["#000000", "#707070"]},
         "legend": {"title": null, "legendX": 131, "labelExpr": "datum.label == 'Corn' ? '$7.00/bu Corn' : '$16/bu Soybean'"}}
     }},
    {"data": {"name": "bounds"}, "mark": {"type": "rule", "color": "#d63a32", "strokeWidth": 1.5, "strokeDash": [7, 5]},
     "encoding": {"x": {"field": "p", "type": "quantitative"}, "y": {"datum": -200, "type": "quantitative", "axis": null}, "y2": {"datum": 0}}},
    {"data": {"name": "classes"}, "mark": {"type": "text", "color": "#d63a32", "fontSize": 18, "baseline": "middle", "align": "center"},
     "encoding": {"x": {"field": "p", "type": "quantitative"}, "y": {"datum": -168, "type": "quantitative", "axis": null}, "text": {"field": "cls"}}},
    {"data": {"values": [{}]}, "mark": {"type": "text", "align": "left", "baseline": "middle", "fontSize": 20, "color": "#1a1a1a"},
     "encoding": {"x": {"datum": 29, "type": "quantitative"}, "y": {"datum": 690, "type": "quantitative", "axis": null}, "text": {"value": "$0.63/lb P₂O₅"}}}
  ],
  "resolve": {"axis": {"y": "independent"}}
},
{
  "width": 340, "height": 393,
  "layer": [
    {"data": {"values": [{}]}, "mark": {"type": "rule", "color": "#8c8c8c", "strokeWidth": 1.5},
     "encoding": {"y": {"datum": 0, "type": "quantitative", "scale": {"domain": [-200, 900], "nice": false, "zero": false},
       "axis": {"orient": "right", "values": [-200, 0, 200, 400, 600, 800], "tickSize": -7, "labels": false, "title": null}}}},
    {"data": {"name": "p2"}, "mark": {"type": "point", "filled": true, "size": 110, "strokeWidth": 0.8, "opacity": 1},
     "encoding": {
       "x": {"field": "p", "type": "quantitative", "scale": {"domain": [0, 75], "nice": false, "zero": false},
         "axis": {"title": "Soil-Test P (ppm)", "values": [0, 10, 20, 30, 40, 50, 60, 70], "tickSize": 7, "labelPadding": 15, "labelFlush": false, "titleFontSize": 21, "titlePadding": 2}},
       "y": {"field": "nr", "type": "quantitative",
         "axis": {"title": null, "values": [-200, 0, 200, 400, 600, 800], "tickSize": -7, "labels": false}},
       "shape": {"field": "crop", "type": "nominal", "scale": {"domain": ["Corn", "Soybean"], "range": ["circle", "triangle-up"]},
         "legend": {"title": null, "legendX": 141, "labelExpr": "datum.label == 'Corn' ? '$5.00/bu Corn' : '$12/bu Soybean'"}},
       "fill": {"field": "crop", "type": "nominal", "scale": {"domain": ["Corn", "Soybean"], "range": ["#000000", "#ffffff"]},
         "legend": {"title": null, "legendX": 141, "labelExpr": "datum.label == 'Corn' ? '$5.00/bu Corn' : '$12/bu Soybean'"}},
       "stroke": {"field": "crop", "type": "nominal", "scale": {"domain": ["Corn", "Soybean"], "range": ["#000000", "#707070"]},
         "legend": {"title": null, "legendX": 141, "labelExpr": "datum.label == 'Corn' ? '$5.00/bu Corn' : '$12/bu Soybean'"}}
     }},
    {"data": {"name": "bounds"}, "mark": {"type": "rule", "color": "#d63a32", "strokeWidth": 1.5, "strokeDash": [7, 5]},
     "encoding": {"x": {"field": "p", "type": "quantitative"}, "y": {"datum": -200, "type": "quantitative", "axis": null}, "y2": {"datum": 0}}},
    {"data": {"name": "classes"}, "mark": {"type": "text", "color": "#d63a32", "fontSize": 18, "baseline": "middle", "align": "center"},
     "encoding": {"x": {"field": "p", "type": "quantitative"}, "y": {"datum": -168, "type": "quantitative", "axis": null}, "text": {"field": "cls"}}},
    {"data": {"values": [{}]}, "mark": {"type": "text", "align": "left", "baseline": "middle", "fontSize": 20, "color": "#1a1a1a"},
     "encoding": {"x": {"datum": 31, "type": "quantitative"}, "y": {"datum": 690, "type": "quantitative", "axis": null}, "text": {"value": "$0.63/lb P₂O₅"}}}
  ],
  "resolve": {"axis": {"y": "independent"}}
},
{
  "width": 333, "height": 393,
  "layer": [
    {"data": {"values": [{}]}, "mark": {"type": "rule", "color": "#8c8c8c", "strokeWidth": 1.5},
     "encoding": {"y": {"datum": 0, "type": "quantitative", "scale": {"domain": [-200, 900], "nice": false, "zero": false},
       "axis": {"orient": "right", "values": [-200, 0, 200, 400, 600, 800], "tickSize": -7, "labels": false, "title": null}}}},
    {"data": {"name": "p3"}, "mark": {"type": "point", "filled": true, "size": 110, "strokeWidth": 0.8, "opacity": 1},
     "encoding": {
       "x": {"field": "p", "type": "quantitative", "scale": {"domain": [0, 73.5], "nice": false, "zero": false},
         "axis": {"title": "Soil-Test P (ppm)", "values": [0, 10, 20, 30, 40, 50, 60, 70], "tickSize": 7, "labelPadding": 15, "labelFlush": false, "titleFontSize": 21, "titlePadding": 2}},
       "y": {"field": "nr", "type": "quantitative",
         "axis": {"title": null, "values": [-200, 0, 200, 400, 600, 800], "tickSize": -7, "labels": false}},
       "shape": {"field": "crop", "type": "nominal", "scale": {"domain": ["Corn", "Soybean"], "range": ["circle", "triangle-up"]},
         "legend": {"title": null, "legendX": 141, "labelExpr": "datum.label == 'Corn' ? '$3.00/bu Corn' : '$8/bu Soybean'"}},
       "fill": {"field": "crop", "type": "nominal", "scale": {"domain": ["Corn", "Soybean"], "range": ["#000000", "#ffffff"]},
         "legend": {"title": null, "legendX": 141, "labelExpr": "datum.label == 'Corn' ? '$3.00/bu Corn' : '$8/bu Soybean'"}},
       "stroke": {"field": "crop", "type": "nominal", "scale": {"domain": ["Corn", "Soybean"], "range": ["#000000", "#707070"]},
         "legend": {"title": null, "legendX": 141, "labelExpr": "datum.label == 'Corn' ? '$3.00/bu Corn' : '$8/bu Soybean'"}}
     }},
    {"data": {"name": "bounds"}, "mark": {"type": "rule", "color": "#d63a32", "strokeWidth": 1.5, "strokeDash": [7, 5]},
     "encoding": {"x": {"field": "p", "type": "quantitative"}, "y": {"datum": -200, "type": "quantitative", "axis": null}, "y2": {"datum": 0}}},
    {"data": {"name": "classes"}, "mark": {"type": "text", "color": "#d63a32", "fontSize": 18, "baseline": "middle", "align": "center"},
     "encoding": {"x": {"field": "p", "type": "quantitative"}, "y": {"datum": -168, "type": "quantitative", "axis": null}, "text": {"field": "cls"}}},
    {"data": {"values": [{}]}, "mark": {"type": "text", "align": "left", "baseline": "middle", "fontSize": 20, "color": "#1a1a1a"},
     "encoding": {"x": {"datum": 31.5, "type": "quantitative"}, "y": {"datum": 690, "type": "quantitative", "axis": null}, "text": {"value": "$0.63/lb P₂O₅"}}}
  ],
  "resolve": {"axis": {"y": "independent"}}
}
]
}
